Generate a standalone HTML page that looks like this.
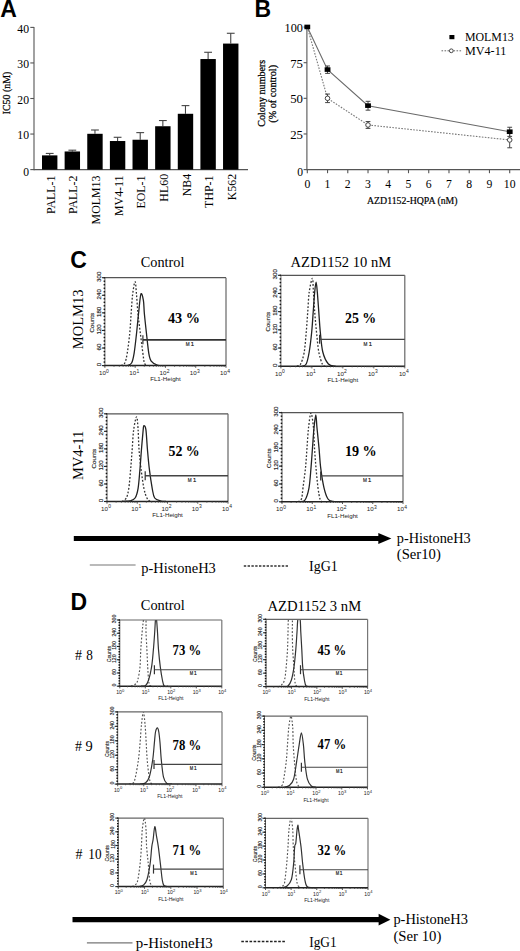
<!DOCTYPE html>
<html><head><meta charset="utf-8"><title>Figure</title>
<style>html,body{margin:0;padding:0;background:#fff;overflow:hidden}svg{display:block}</style></head>
<body><svg width="520" height="951" viewBox="0 0 520 951">
<rect width="520" height="951" fill="#fff"/>
<text x="0.20" y="16.50" font-family="'Liberation Sans', sans-serif" font-size="23" font-weight="bold" text-anchor="start" fill="#000">A</text>
<line x1="34.00" y1="26.90" x2="34.00" y2="170.20" stroke="#555" stroke-width="1.1" stroke-linecap="butt"/>
<line x1="30.30" y1="169.60" x2="34.00" y2="169.60" stroke="#555" stroke-width="1.1" stroke-linecap="butt"/>
<text x="29.00" y="175.60" font-family="'Liberation Serif', serif" font-size="11.5" text-anchor="end" fill="#000" textLength="5.80" lengthAdjust="spacingAndGlyphs">0</text>
<line x1="30.30" y1="134.05" x2="34.00" y2="134.05" stroke="#555" stroke-width="1.1" stroke-linecap="butt"/>
<text x="29.00" y="139.25" font-family="'Liberation Serif', serif" font-size="11.5" text-anchor="end" fill="#000" textLength="11.70" lengthAdjust="spacingAndGlyphs">10</text>
<line x1="30.30" y1="98.50" x2="34.00" y2="98.50" stroke="#555" stroke-width="1.1" stroke-linecap="butt"/>
<text x="29.00" y="103.70" font-family="'Liberation Serif', serif" font-size="11.5" text-anchor="end" fill="#000" textLength="11.70" lengthAdjust="spacingAndGlyphs">20</text>
<line x1="30.30" y1="62.95" x2="34.00" y2="62.95" stroke="#555" stroke-width="1.1" stroke-linecap="butt"/>
<text x="29.00" y="68.15" font-family="'Liberation Serif', serif" font-size="11.5" text-anchor="end" fill="#000" textLength="11.70" lengthAdjust="spacingAndGlyphs">30</text>
<line x1="30.30" y1="27.40" x2="34.00" y2="27.40" stroke="#555" stroke-width="1.1" stroke-linecap="butt"/>
<text x="29.00" y="32.60" font-family="'Liberation Serif', serif" font-size="11.5" text-anchor="end" fill="#000" textLength="11.70" lengthAdjust="spacingAndGlyphs">40</text>
<line x1="34.00" y1="169.60" x2="248.00" y2="169.60" stroke="#555" stroke-width="1.1" stroke-linecap="butt"/>
<text x="10.40" y="93.00" font-family="'Liberation Serif', serif" font-size="10" text-anchor="middle" fill="#000" textLength="42.60" lengthAdjust="spacingAndGlyphs" transform="rotate(-90 10.40 93.00)" stroke="#000" stroke-width="0.25">IC50 (nM)</text>
<line x1="49.70" y1="153.42" x2="49.70" y2="155.38" stroke="#444" stroke-width="1.1" stroke-linecap="butt"/>
<line x1="45.80" y1="153.42" x2="53.60" y2="153.42" stroke="#444" stroke-width="1.1" stroke-linecap="butt"/>
<rect x="42.00" y="155.38" width="15.40" height="14.22" fill="#000"/>
<text x="54.80" y="175.50" font-family="'Liberation Serif', serif" font-size="11.9" text-anchor="end" fill="#000" transform="rotate(-90 54.80 175.50)">PALL-1</text>
<line x1="72.33" y1="150.19" x2="72.33" y2="151.47" stroke="#444" stroke-width="1.1" stroke-linecap="butt"/>
<line x1="68.43" y1="150.19" x2="76.23" y2="150.19" stroke="#444" stroke-width="1.1" stroke-linecap="butt"/>
<rect x="64.63" y="151.47" width="15.40" height="18.13" fill="#000"/>
<text x="77.43" y="175.50" font-family="'Liberation Serif', serif" font-size="11.9" text-anchor="end" fill="#000" transform="rotate(-90 77.43 175.50)">PALL-2</text>
<line x1="94.96" y1="130.00" x2="94.96" y2="133.80" stroke="#444" stroke-width="1.1" stroke-linecap="butt"/>
<line x1="91.06" y1="130.00" x2="98.86" y2="130.00" stroke="#444" stroke-width="1.1" stroke-linecap="butt"/>
<rect x="87.26" y="133.80" width="15.40" height="35.80" fill="#000"/>
<text x="100.06" y="175.50" font-family="'Liberation Serif', serif" font-size="11.9" text-anchor="end" fill="#000" transform="rotate(-90 100.06 175.50)">MOLM13</text>
<line x1="117.59" y1="137.29" x2="117.59" y2="141.02" stroke="#444" stroke-width="1.1" stroke-linecap="butt"/>
<line x1="113.69" y1="137.29" x2="121.49" y2="137.29" stroke="#444" stroke-width="1.1" stroke-linecap="butt"/>
<rect x="109.89" y="141.02" width="15.40" height="28.58" fill="#000"/>
<text x="122.69" y="175.50" font-family="'Liberation Serif', serif" font-size="11.9" text-anchor="end" fill="#000" transform="rotate(-90 122.69 175.50)">MV4-11</text>
<line x1="140.22" y1="132.63" x2="140.22" y2="139.74" stroke="#444" stroke-width="1.1" stroke-linecap="butt"/>
<line x1="136.32" y1="132.63" x2="144.12" y2="132.63" stroke="#444" stroke-width="1.1" stroke-linecap="butt"/>
<rect x="132.52" y="139.74" width="15.40" height="29.86" fill="#000"/>
<text x="145.32" y="175.50" font-family="'Liberation Serif', serif" font-size="11.9" text-anchor="end" fill="#000" transform="rotate(-90 145.32 175.50)">EOL-1</text>
<line x1="162.85" y1="120.54" x2="162.85" y2="126.23" stroke="#444" stroke-width="1.1" stroke-linecap="butt"/>
<line x1="158.95" y1="120.54" x2="166.75" y2="120.54" stroke="#444" stroke-width="1.1" stroke-linecap="butt"/>
<rect x="155.15" y="126.23" width="15.40" height="43.37" fill="#000"/>
<text x="167.95" y="173.90" font-family="'Liberation Serif', serif" font-size="11.9" text-anchor="end" fill="#000" transform="rotate(-90 167.95 173.90)">HL60</text>
<line x1="185.48" y1="105.61" x2="185.48" y2="113.79" stroke="#444" stroke-width="1.1" stroke-linecap="butt"/>
<line x1="181.58" y1="105.61" x2="189.38" y2="105.61" stroke="#444" stroke-width="1.1" stroke-linecap="butt"/>
<rect x="177.78" y="113.79" width="15.40" height="55.81" fill="#000"/>
<text x="190.58" y="173.90" font-family="'Liberation Serif', serif" font-size="11.9" text-anchor="end" fill="#000" transform="rotate(-90 190.58 173.90)">NB4</text>
<line x1="208.11" y1="52.28" x2="208.11" y2="59.04" stroke="#444" stroke-width="1.1" stroke-linecap="butt"/>
<line x1="204.21" y1="52.28" x2="212.01" y2="52.28" stroke="#444" stroke-width="1.1" stroke-linecap="butt"/>
<rect x="200.41" y="59.04" width="15.40" height="110.56" fill="#000"/>
<text x="213.21" y="175.50" font-family="'Liberation Serif', serif" font-size="11.9" text-anchor="end" fill="#000" transform="rotate(-90 213.21 175.50)">THP-1</text>
<line x1="230.74" y1="33.27" x2="230.74" y2="43.58" stroke="#444" stroke-width="1.1" stroke-linecap="butt"/>
<line x1="226.84" y1="33.27" x2="234.64" y2="33.27" stroke="#444" stroke-width="1.1" stroke-linecap="butt"/>
<rect x="223.04" y="43.58" width="15.40" height="126.02" fill="#000"/>
<text x="235.84" y="173.90" font-family="'Liberation Serif', serif" font-size="11.9" text-anchor="end" fill="#000" transform="rotate(-90 235.84 173.90)">K562</text>
<text x="254.60" y="16.50" font-family="'Liberation Sans', sans-serif" font-size="23" font-weight="bold" text-anchor="start" fill="#000">B</text>
<line x1="306.90" y1="26.55" x2="306.90" y2="170.20" stroke="#555" stroke-width="1.1" stroke-linecap="butt"/>
<line x1="303.60" y1="169.60" x2="306.90" y2="169.60" stroke="#555" stroke-width="1.1" stroke-linecap="butt"/>
<text x="303.00" y="175.60" font-family="'Liberation Serif', serif" font-size="11.8" text-anchor="end" fill="#000" textLength="5.80" lengthAdjust="spacingAndGlyphs">0</text>
<line x1="303.60" y1="133.96" x2="306.90" y2="133.96" stroke="#555" stroke-width="1.1" stroke-linecap="butt"/>
<text x="303.00" y="138.96" font-family="'Liberation Serif', serif" font-size="11.8" text-anchor="end" fill="#000" textLength="12.80" lengthAdjust="spacingAndGlyphs">25</text>
<line x1="303.60" y1="98.32" x2="306.90" y2="98.32" stroke="#555" stroke-width="1.1" stroke-linecap="butt"/>
<text x="303.00" y="103.32" font-family="'Liberation Serif', serif" font-size="11.8" text-anchor="end" fill="#000" textLength="12.80" lengthAdjust="spacingAndGlyphs">50</text>
<line x1="303.60" y1="62.69" x2="306.90" y2="62.69" stroke="#555" stroke-width="1.1" stroke-linecap="butt"/>
<text x="303.00" y="67.69" font-family="'Liberation Serif', serif" font-size="11.8" text-anchor="end" fill="#000" textLength="12.80" lengthAdjust="spacingAndGlyphs">75</text>
<line x1="303.60" y1="27.05" x2="306.90" y2="27.05" stroke="#555" stroke-width="1.1" stroke-linecap="butt"/>
<text x="303.00" y="32.05" font-family="'Liberation Serif', serif" font-size="11.8" text-anchor="end" fill="#000" textLength="18.40" lengthAdjust="spacingAndGlyphs">100</text>
<line x1="306.90" y1="169.60" x2="520.00" y2="169.60" stroke="#555" stroke-width="1.1" stroke-linecap="butt"/>
<line x1="307.30" y1="169.60" x2="307.30" y2="173.20" stroke="#555" stroke-width="1.1" stroke-linecap="butt"/>
<text x="307.30" y="187.80" font-family="'Liberation Serif', serif" font-size="11.7" text-anchor="middle" fill="#000">0</text>
<line x1="327.54" y1="169.60" x2="327.54" y2="173.20" stroke="#555" stroke-width="1.1" stroke-linecap="butt"/>
<text x="327.54" y="187.80" font-family="'Liberation Serif', serif" font-size="11.7" text-anchor="middle" fill="#000">1</text>
<line x1="347.78" y1="169.60" x2="347.78" y2="173.20" stroke="#555" stroke-width="1.1" stroke-linecap="butt"/>
<text x="347.78" y="187.80" font-family="'Liberation Serif', serif" font-size="11.7" text-anchor="middle" fill="#000">2</text>
<line x1="368.02" y1="169.60" x2="368.02" y2="173.20" stroke="#555" stroke-width="1.1" stroke-linecap="butt"/>
<text x="368.02" y="187.80" font-family="'Liberation Serif', serif" font-size="11.7" text-anchor="middle" fill="#000">3</text>
<line x1="388.26" y1="169.60" x2="388.26" y2="173.20" stroke="#555" stroke-width="1.1" stroke-linecap="butt"/>
<text x="388.26" y="187.80" font-family="'Liberation Serif', serif" font-size="11.7" text-anchor="middle" fill="#000">4</text>
<line x1="408.50" y1="169.60" x2="408.50" y2="173.20" stroke="#555" stroke-width="1.1" stroke-linecap="butt"/>
<text x="408.50" y="187.80" font-family="'Liberation Serif', serif" font-size="11.7" text-anchor="middle" fill="#000">5</text>
<line x1="428.74" y1="169.60" x2="428.74" y2="173.20" stroke="#555" stroke-width="1.1" stroke-linecap="butt"/>
<text x="428.74" y="187.80" font-family="'Liberation Serif', serif" font-size="11.7" text-anchor="middle" fill="#000">6</text>
<line x1="448.98" y1="169.60" x2="448.98" y2="173.20" stroke="#555" stroke-width="1.1" stroke-linecap="butt"/>
<text x="448.98" y="187.80" font-family="'Liberation Serif', serif" font-size="11.7" text-anchor="middle" fill="#000">7</text>
<line x1="469.22" y1="169.60" x2="469.22" y2="173.20" stroke="#555" stroke-width="1.1" stroke-linecap="butt"/>
<text x="469.22" y="187.80" font-family="'Liberation Serif', serif" font-size="11.7" text-anchor="middle" fill="#000">8</text>
<line x1="489.46" y1="169.60" x2="489.46" y2="173.20" stroke="#555" stroke-width="1.1" stroke-linecap="butt"/>
<text x="489.46" y="187.80" font-family="'Liberation Serif', serif" font-size="11.7" text-anchor="middle" fill="#000">9</text>
<line x1="509.70" y1="169.60" x2="509.70" y2="173.20" stroke="#555" stroke-width="1.1" stroke-linecap="butt"/>
<text x="509.70" y="187.80" font-family="'Liberation Serif', serif" font-size="11.7" text-anchor="middle" fill="#000">10</text>
<text x="367.00" y="204.20" font-family="'Liberation Serif', serif" font-size="9.8" text-anchor="start" fill="#000" textLength="90.60" lengthAdjust="spacingAndGlyphs" stroke="#000" stroke-width="0.2">AZD1152-HQPA (nM)</text>
<text x="264.60" y="93.20" font-family="'Liberation Serif', serif" font-size="10" text-anchor="middle" fill="#000" textLength="67.00" lengthAdjust="spacingAndGlyphs" transform="rotate(-90 264.60 93.20)" stroke="#000" stroke-width="0.25">Colony numbers</text>
<text x="276.40" y="93.80" font-family="'Liberation Serif', serif" font-size="10" text-anchor="middle" fill="#000" textLength="57.80" lengthAdjust="spacingAndGlyphs" transform="rotate(-90 276.40 93.80)" stroke="#000" stroke-width="0.25">(% of control)</text>
<polyline points="307.30,27.05 327.54,69.67 368.02,105.74 509.70,131.82" fill="none" stroke="#6a6a6a" stroke-width="1.1"/>
<polyline points="307.30,27.05 327.54,98.32 368.02,124.98 509.70,139.95" fill="none" stroke="#777" stroke-width="1.1" stroke-dasharray="1.6 1.4"/>
<line x1="327.54" y1="65.97" x2="327.54" y2="73.38" stroke="#444" stroke-width="1.0" stroke-linecap="butt"/>
<line x1="325.14" y1="65.97" x2="329.94" y2="65.97" stroke="#444" stroke-width="1.0" stroke-linecap="butt"/>
<line x1="325.14" y1="73.38" x2="329.94" y2="73.38" stroke="#444" stroke-width="1.0" stroke-linecap="butt"/>
<line x1="368.02" y1="101.32" x2="368.02" y2="110.16" stroke="#444" stroke-width="1.0" stroke-linecap="butt"/>
<line x1="365.62" y1="101.32" x2="370.42" y2="101.32" stroke="#444" stroke-width="1.0" stroke-linecap="butt"/>
<line x1="365.62" y1="110.16" x2="370.42" y2="110.16" stroke="#444" stroke-width="1.0" stroke-linecap="butt"/>
<line x1="509.70" y1="127.26" x2="509.70" y2="136.39" stroke="#444" stroke-width="1.0" stroke-linecap="butt"/>
<line x1="507.30" y1="127.26" x2="512.10" y2="127.26" stroke="#444" stroke-width="1.0" stroke-linecap="butt"/>
<line x1="507.30" y1="136.39" x2="512.10" y2="136.39" stroke="#444" stroke-width="1.0" stroke-linecap="butt"/>
<line x1="327.54" y1="94.05" x2="327.54" y2="102.60" stroke="#444" stroke-width="1.0" stroke-linecap="butt"/>
<line x1="325.14" y1="94.05" x2="329.94" y2="94.05" stroke="#444" stroke-width="1.0" stroke-linecap="butt"/>
<line x1="325.14" y1="102.60" x2="329.94" y2="102.60" stroke="#444" stroke-width="1.0" stroke-linecap="butt"/>
<line x1="368.02" y1="121.56" x2="368.02" y2="128.40" stroke="#444" stroke-width="1.0" stroke-linecap="butt"/>
<line x1="365.62" y1="121.56" x2="370.42" y2="121.56" stroke="#444" stroke-width="1.0" stroke-linecap="butt"/>
<line x1="365.62" y1="128.40" x2="370.42" y2="128.40" stroke="#444" stroke-width="1.0" stroke-linecap="butt"/>
<line x1="509.70" y1="132.11" x2="509.70" y2="147.79" stroke="#444" stroke-width="1.0" stroke-linecap="butt"/>
<line x1="507.30" y1="132.11" x2="512.10" y2="132.11" stroke="#444" stroke-width="1.0" stroke-linecap="butt"/>
<line x1="507.30" y1="147.79" x2="512.10" y2="147.79" stroke="#444" stroke-width="1.0" stroke-linecap="butt"/>
<circle cx="327.54" cy="98.32" r="2.3" fill="#fff" stroke="#444" stroke-width="1"/>
<circle cx="368.02" cy="124.98" r="2.3" fill="#fff" stroke="#444" stroke-width="1"/>
<circle cx="509.70" cy="139.95" r="2.3" fill="#fff" stroke="#444" stroke-width="1"/>
<rect x="304.40" y="24.65" width="5.80" height="4.60" fill="#000"/>
<rect x="324.64" y="67.27" width="5.80" height="4.60" fill="#000"/>
<rect x="365.12" y="103.34" width="5.80" height="4.60" fill="#000"/>
<rect x="506.80" y="129.42" width="5.80" height="4.60" fill="#000"/>
<rect x="449.40" y="35.00" width="5.00" height="4.20" fill="#000"/>
<text x="465.00" y="40.90" font-family="'Liberation Serif', serif" font-size="12" text-anchor="start" fill="#000" textLength="48.80" lengthAdjust="spacingAndGlyphs">MOLM13</text>
<line x1="441.50" y1="50.80" x2="461.20" y2="50.80" stroke="#666" stroke-width="1" stroke-dasharray="1.6 1.4" stroke-linecap="butt"/>
<circle cx="451.3" cy="50.8" r="1.9" fill="#fff" stroke="#333" stroke-width="0.9"/>
<text x="465.00" y="55.30" font-family="'Liberation Serif', serif" font-size="12" text-anchor="start" fill="#000" textLength="41.30" lengthAdjust="spacingAndGlyphs">MV4-11</text>
<text x="70.20" y="268.10" font-family="'Liberation Sans', sans-serif" font-size="23" font-weight="bold" text-anchor="start" fill="#000">C</text>
<text x="140.80" y="267.10" font-family="'Liberation Serif', serif" font-size="14" text-anchor="start" fill="#000" textLength="43.60" lengthAdjust="spacingAndGlyphs">Control</text>
<text x="290.60" y="267.10" font-family="'Liberation Serif', serif" font-size="14" text-anchor="start" fill="#000" textLength="100.50" lengthAdjust="spacingAndGlyphs">AZD1152 10 nM</text>
<text x="83.00" y="319.40" font-family="'Liberation Serif', serif" font-size="14.5" text-anchor="middle" fill="#000" textLength="59.60" lengthAdjust="spacingAndGlyphs" transform="rotate(-90 83.00 319.40)">MOLM13</text>
<text x="82.90" y="455.50" font-family="'Liberation Serif', serif" font-size="14.5" text-anchor="middle" fill="#000" textLength="49.20" lengthAdjust="spacingAndGlyphs" transform="rotate(-90 82.90 455.50)">MV4-11</text>
<clipPath id="c104_277"><rect x="104.90" y="277.70" width="121.10" height="87.90"/></clipPath>
<path d="M121.00,365.60 C121.63,365.17 123.77,365.05 124.80,363.00 C125.83,360.95 126.38,358.18 127.20,353.30 C128.02,348.42 129.05,340.23 129.70,333.70 C130.35,327.17 130.62,320.62 131.10,314.10 C131.58,307.58 131.93,300.00 132.60,294.60 C133.27,289.20 134.45,281.70 135.10,281.70 C135.75,281.70 136.02,289.22 136.50,294.60 C136.98,299.98 137.35,307.48 138.00,314.00 C138.65,320.52 139.58,327.15 140.40,333.70 C141.22,340.25 142.23,348.42 142.90,353.30 C143.57,358.18 143.72,360.95 144.40,363.00 C145.08,365.05 146.57,365.17 147.00,365.60" fill="none" stroke="#333" stroke-width="1.3" stroke-dasharray="1.8 1.8" clip-path="url(#c104_277)"/>
<path d="M127.00,365.60 C127.77,365.17 130.42,365.05 131.60,363.00 C132.78,360.95 133.28,358.18 134.10,353.30 C134.92,348.42 135.77,340.25 136.50,333.70 C137.23,327.15 137.77,320.60 138.50,314.00 C139.23,307.40 140.08,296.37 140.90,294.10 C141.72,291.83 142.82,297.08 143.40,300.40 C143.98,303.72 143.88,308.45 144.40,314.00 C144.92,319.55 145.77,327.15 146.50,333.70 C147.23,340.25 148.02,348.73 148.80,353.30 C149.58,357.87 149.82,359.15 151.20,361.10 C152.58,363.05 155.13,364.25 157.10,365.00 C159.07,365.75 162.02,365.50 163.00,365.60" fill="none" stroke="#222" stroke-width="1.3" clip-path="url(#c104_277)"/>
<line x1="104.90" y1="277.70" x2="226.00" y2="277.70" stroke="#555" stroke-width="1.2" stroke-linecap="butt"/>
<line x1="226.00" y1="277.70" x2="226.00" y2="365.60" stroke="#666" stroke-width="1.2" stroke-linecap="butt"/>
<line x1="104.90" y1="277.70" x2="104.90" y2="365.60" stroke="#666" stroke-width="1.0" stroke-linecap="butt"/>
<line x1="104.90" y1="365.60" x2="226.00" y2="365.60" stroke="#222" stroke-width="1.5" stroke-linecap="butt"/>
<line x1="103.60" y1="277.70" x2="105.10" y2="277.70" stroke="#111" stroke-width="1.4" stroke-linecap="butt"/>
<line x1="103.60" y1="281.22" x2="105.10" y2="281.22" stroke="#111" stroke-width="1.4" stroke-linecap="butt"/>
<line x1="103.60" y1="284.73" x2="105.10" y2="284.73" stroke="#111" stroke-width="1.4" stroke-linecap="butt"/>
<line x1="103.60" y1="288.25" x2="105.10" y2="288.25" stroke="#111" stroke-width="1.4" stroke-linecap="butt"/>
<line x1="103.60" y1="291.76" x2="105.10" y2="291.76" stroke="#111" stroke-width="1.4" stroke-linecap="butt"/>
<line x1="103.60" y1="295.28" x2="105.10" y2="295.28" stroke="#111" stroke-width="1.4" stroke-linecap="butt"/>
<line x1="103.60" y1="298.80" x2="105.10" y2="298.80" stroke="#111" stroke-width="1.4" stroke-linecap="butt"/>
<line x1="103.60" y1="302.31" x2="105.10" y2="302.31" stroke="#111" stroke-width="1.4" stroke-linecap="butt"/>
<line x1="103.60" y1="305.83" x2="105.10" y2="305.83" stroke="#111" stroke-width="1.4" stroke-linecap="butt"/>
<line x1="103.60" y1="309.34" x2="105.10" y2="309.34" stroke="#111" stroke-width="1.4" stroke-linecap="butt"/>
<line x1="103.60" y1="312.86" x2="105.10" y2="312.86" stroke="#111" stroke-width="1.4" stroke-linecap="butt"/>
<line x1="103.60" y1="316.38" x2="105.10" y2="316.38" stroke="#111" stroke-width="1.4" stroke-linecap="butt"/>
<line x1="103.60" y1="319.89" x2="105.10" y2="319.89" stroke="#111" stroke-width="1.4" stroke-linecap="butt"/>
<line x1="103.60" y1="323.41" x2="105.10" y2="323.41" stroke="#111" stroke-width="1.4" stroke-linecap="butt"/>
<line x1="103.60" y1="326.92" x2="105.10" y2="326.92" stroke="#111" stroke-width="1.4" stroke-linecap="butt"/>
<line x1="103.60" y1="330.44" x2="105.10" y2="330.44" stroke="#111" stroke-width="1.4" stroke-linecap="butt"/>
<line x1="103.60" y1="333.96" x2="105.10" y2="333.96" stroke="#111" stroke-width="1.4" stroke-linecap="butt"/>
<line x1="103.60" y1="337.47" x2="105.10" y2="337.47" stroke="#111" stroke-width="1.4" stroke-linecap="butt"/>
<line x1="103.60" y1="340.99" x2="105.10" y2="340.99" stroke="#111" stroke-width="1.4" stroke-linecap="butt"/>
<line x1="103.60" y1="344.50" x2="105.10" y2="344.50" stroke="#111" stroke-width="1.4" stroke-linecap="butt"/>
<line x1="103.60" y1="348.02" x2="105.10" y2="348.02" stroke="#111" stroke-width="1.4" stroke-linecap="butt"/>
<line x1="103.60" y1="351.54" x2="105.10" y2="351.54" stroke="#111" stroke-width="1.4" stroke-linecap="butt"/>
<line x1="103.60" y1="355.05" x2="105.10" y2="355.05" stroke="#111" stroke-width="1.4" stroke-linecap="butt"/>
<line x1="103.60" y1="358.57" x2="105.10" y2="358.57" stroke="#111" stroke-width="1.4" stroke-linecap="butt"/>
<line x1="103.60" y1="362.08" x2="105.10" y2="362.08" stroke="#111" stroke-width="1.4" stroke-linecap="butt"/>
<line x1="103.60" y1="365.60" x2="105.10" y2="365.60" stroke="#111" stroke-width="1.4" stroke-linecap="butt"/>
<line x1="101.90" y1="277.70" x2="104.90" y2="277.70" stroke="#222" stroke-width="1.1" stroke-linecap="butt"/>
<line x1="101.90" y1="295.28" x2="104.90" y2="295.28" stroke="#222" stroke-width="1.1" stroke-linecap="butt"/>
<line x1="101.90" y1="312.86" x2="104.90" y2="312.86" stroke="#222" stroke-width="1.1" stroke-linecap="butt"/>
<line x1="101.90" y1="330.44" x2="104.90" y2="330.44" stroke="#222" stroke-width="1.1" stroke-linecap="butt"/>
<line x1="101.90" y1="348.02" x2="104.90" y2="348.02" stroke="#222" stroke-width="1.1" stroke-linecap="butt"/>
<line x1="101.90" y1="365.60" x2="104.90" y2="365.60" stroke="#222" stroke-width="1.1" stroke-linecap="butt"/>
<line x1="104.90" y1="365.60" x2="104.90" y2="367.80" stroke="#444" stroke-width="0.9" stroke-linecap="butt"/>
<line x1="114.01" y1="365.60" x2="114.01" y2="366.70" stroke="#444" stroke-width="0.9" stroke-linecap="butt"/>
<line x1="119.34" y1="365.60" x2="119.34" y2="366.70" stroke="#444" stroke-width="0.9" stroke-linecap="butt"/>
<line x1="123.13" y1="365.60" x2="123.13" y2="366.70" stroke="#444" stroke-width="0.9" stroke-linecap="butt"/>
<line x1="126.06" y1="365.60" x2="126.06" y2="366.70" stroke="#444" stroke-width="0.9" stroke-linecap="butt"/>
<line x1="128.46" y1="365.60" x2="128.46" y2="366.70" stroke="#444" stroke-width="0.9" stroke-linecap="butt"/>
<line x1="130.49" y1="365.60" x2="130.49" y2="366.70" stroke="#444" stroke-width="0.9" stroke-linecap="butt"/>
<line x1="132.24" y1="365.60" x2="132.24" y2="366.70" stroke="#444" stroke-width="0.9" stroke-linecap="butt"/>
<line x1="133.79" y1="365.60" x2="133.79" y2="366.70" stroke="#444" stroke-width="0.9" stroke-linecap="butt"/>
<line x1="135.18" y1="365.60" x2="135.18" y2="367.80" stroke="#444" stroke-width="0.9" stroke-linecap="butt"/>
<line x1="144.29" y1="365.60" x2="144.29" y2="366.70" stroke="#444" stroke-width="0.9" stroke-linecap="butt"/>
<line x1="149.62" y1="365.60" x2="149.62" y2="366.70" stroke="#444" stroke-width="0.9" stroke-linecap="butt"/>
<line x1="153.40" y1="365.60" x2="153.40" y2="366.70" stroke="#444" stroke-width="0.9" stroke-linecap="butt"/>
<line x1="156.34" y1="365.60" x2="156.34" y2="366.70" stroke="#444" stroke-width="0.9" stroke-linecap="butt"/>
<line x1="158.73" y1="365.60" x2="158.73" y2="366.70" stroke="#444" stroke-width="0.9" stroke-linecap="butt"/>
<line x1="160.76" y1="365.60" x2="160.76" y2="366.70" stroke="#444" stroke-width="0.9" stroke-linecap="butt"/>
<line x1="162.52" y1="365.60" x2="162.52" y2="366.70" stroke="#444" stroke-width="0.9" stroke-linecap="butt"/>
<line x1="164.06" y1="365.60" x2="164.06" y2="366.70" stroke="#444" stroke-width="0.9" stroke-linecap="butt"/>
<line x1="165.45" y1="365.60" x2="165.45" y2="367.80" stroke="#444" stroke-width="0.9" stroke-linecap="butt"/>
<line x1="174.56" y1="365.60" x2="174.56" y2="366.70" stroke="#444" stroke-width="0.9" stroke-linecap="butt"/>
<line x1="179.89" y1="365.60" x2="179.89" y2="366.70" stroke="#444" stroke-width="0.9" stroke-linecap="butt"/>
<line x1="183.68" y1="365.60" x2="183.68" y2="366.70" stroke="#444" stroke-width="0.9" stroke-linecap="butt"/>
<line x1="186.61" y1="365.60" x2="186.61" y2="366.70" stroke="#444" stroke-width="0.9" stroke-linecap="butt"/>
<line x1="189.01" y1="365.60" x2="189.01" y2="366.70" stroke="#444" stroke-width="0.9" stroke-linecap="butt"/>
<line x1="191.04" y1="365.60" x2="191.04" y2="366.70" stroke="#444" stroke-width="0.9" stroke-linecap="butt"/>
<line x1="192.79" y1="365.60" x2="192.79" y2="366.70" stroke="#444" stroke-width="0.9" stroke-linecap="butt"/>
<line x1="194.34" y1="365.60" x2="194.34" y2="366.70" stroke="#444" stroke-width="0.9" stroke-linecap="butt"/>
<line x1="195.72" y1="365.60" x2="195.72" y2="367.80" stroke="#444" stroke-width="0.9" stroke-linecap="butt"/>
<line x1="204.84" y1="365.60" x2="204.84" y2="366.70" stroke="#444" stroke-width="0.9" stroke-linecap="butt"/>
<line x1="210.17" y1="365.60" x2="210.17" y2="366.70" stroke="#444" stroke-width="0.9" stroke-linecap="butt"/>
<line x1="213.95" y1="365.60" x2="213.95" y2="366.70" stroke="#444" stroke-width="0.9" stroke-linecap="butt"/>
<line x1="216.89" y1="365.60" x2="216.89" y2="366.70" stroke="#444" stroke-width="0.9" stroke-linecap="butt"/>
<line x1="219.28" y1="365.60" x2="219.28" y2="366.70" stroke="#444" stroke-width="0.9" stroke-linecap="butt"/>
<line x1="221.31" y1="365.60" x2="221.31" y2="366.70" stroke="#444" stroke-width="0.9" stroke-linecap="butt"/>
<line x1="223.07" y1="365.60" x2="223.07" y2="366.70" stroke="#444" stroke-width="0.9" stroke-linecap="butt"/>
<line x1="224.61" y1="365.60" x2="224.61" y2="366.70" stroke="#444" stroke-width="0.9" stroke-linecap="butt"/>
<line x1="226.00" y1="365.60" x2="226.00" y2="367.80" stroke="#444" stroke-width="0.9" stroke-linecap="butt"/>
<text x="100.60" y="364.60" font-family="'Liberation Sans', sans-serif" font-size="6.2" text-anchor="middle" fill="#222" transform="rotate(-90 100.60 364.60)" stroke="#222" stroke-width="0.15">0</text>
<text x="100.60" y="347.02" font-family="'Liberation Sans', sans-serif" font-size="6.2" text-anchor="middle" fill="#222" transform="rotate(-90 100.60 347.02)" stroke="#222" stroke-width="0.15">60</text>
<text x="100.60" y="329.44" font-family="'Liberation Sans', sans-serif" font-size="6.2" text-anchor="middle" fill="#222" transform="rotate(-90 100.60 329.44)" stroke="#222" stroke-width="0.15">120</text>
<text x="100.60" y="311.86" font-family="'Liberation Sans', sans-serif" font-size="6.2" text-anchor="middle" fill="#222" transform="rotate(-90 100.60 311.86)" stroke="#222" stroke-width="0.15">180</text>
<text x="100.60" y="294.28" font-family="'Liberation Sans', sans-serif" font-size="6.2" text-anchor="middle" fill="#222" transform="rotate(-90 100.60 294.28)" stroke="#222" stroke-width="0.15">240</text>
<text x="100.60" y="276.70" font-family="'Liberation Sans', sans-serif" font-size="6.2" text-anchor="middle" fill="#222" transform="rotate(-90 100.60 276.70)" stroke="#222" stroke-width="0.15">300</text>
<text x="93.60" y="322.65" font-family="'Liberation Sans', sans-serif" font-size="6.2" text-anchor="middle" fill="#222" transform="rotate(-90 93.60 322.65)" stroke="#222" stroke-width="0.15">Counts</text>
<text x="105.90" y="374.90" font-family="'Liberation Sans', sans-serif" font-size="6.2" text-anchor="end" fill="#222">10</text>
<text x="106.10" y="372.50" font-family="'Liberation Sans', sans-serif" font-size="4.960000000000001" text-anchor="start" fill="#222">0</text>
<text x="136.18" y="374.90" font-family="'Liberation Sans', sans-serif" font-size="6.2" text-anchor="end" fill="#222">10</text>
<text x="136.38" y="372.50" font-family="'Liberation Sans', sans-serif" font-size="4.960000000000001" text-anchor="start" fill="#222">1</text>
<text x="166.45" y="374.90" font-family="'Liberation Sans', sans-serif" font-size="6.2" text-anchor="end" fill="#222">10</text>
<text x="166.65" y="372.50" font-family="'Liberation Sans', sans-serif" font-size="4.960000000000001" text-anchor="start" fill="#222">2</text>
<text x="196.72" y="374.90" font-family="'Liberation Sans', sans-serif" font-size="6.2" text-anchor="end" fill="#222">10</text>
<text x="196.92" y="372.50" font-family="'Liberation Sans', sans-serif" font-size="4.960000000000001" text-anchor="start" fill="#222">3</text>
<text x="227.00" y="374.90" font-family="'Liberation Sans', sans-serif" font-size="6.2" text-anchor="end" fill="#222">10</text>
<text x="227.20" y="372.50" font-family="'Liberation Sans', sans-serif" font-size="4.960000000000001" text-anchor="start" fill="#222">4</text>
<text x="165.45" y="381.40" font-family="'Liberation Sans', sans-serif" font-size="6.2" text-anchor="middle" fill="#222">FL1-Height</text>
<line x1="142.90" y1="339.80" x2="226.00" y2="339.80" stroke="#333" stroke-width="1.7" stroke-linecap="butt"/>
<line x1="142.90" y1="335.30" x2="142.90" y2="344.30" stroke="#333" stroke-width="1.2" stroke-linecap="butt"/>
<text x="185.70" y="346.20" font-family="'Liberation Sans', sans-serif" font-size="5.89" text-anchor="start" fill="#111" textLength="3.90" lengthAdjust="spacingAndGlyphs" stroke="#111" stroke-width="0.15">M</text>
<text x="194.09" y="346.20" font-family="'Liberation Sans', sans-serif" font-size="5.89" text-anchor="end" fill="#111" stroke="#111" stroke-width="0.15">1</text>
<text x="167.90" y="323.40" font-family="'Liberation Serif', serif" font-size="14" font-weight="bold" text-anchor="start" fill="#000" textLength="32.00" lengthAdjust="spacingAndGlyphs">43 %</text>
<clipPath id="c280_275"><rect x="280.90" y="275.30" width="123.90" height="90.90"/></clipPath>
<path d="M297.00,366.20 C297.60,365.83 299.42,366.23 300.60,364.00 C301.78,361.77 303.17,358.03 304.10,352.80 C305.03,347.57 305.60,339.33 306.20,332.60 C306.80,325.87 307.20,319.13 307.70,312.40 C308.20,305.67 308.42,297.88 309.20,292.20 C309.98,286.52 311.70,278.33 312.40,278.30 C313.10,278.27 313.02,286.38 313.40,292.00 C313.78,297.62 314.18,305.33 314.70,312.00 C315.22,318.67 315.82,325.33 316.50,332.00 C317.18,338.67 317.83,346.67 318.80,352.00 C319.77,357.33 321.27,361.63 322.30,364.00 C323.33,366.37 324.55,365.83 325.00,366.20" fill="none" stroke="#333" stroke-width="1.3" stroke-dasharray="1.8 1.8" clip-path="url(#c280_275)"/>
<path d="M302.00,366.20 C302.70,365.83 305.00,366.37 306.20,364.00 C307.40,361.63 308.28,357.33 309.20,352.00 C310.12,346.67 311.03,338.67 311.70,332.00 C312.37,325.33 312.70,318.67 313.20,312.00 C313.70,305.33 314.22,296.98 314.70,292.00 C315.18,287.02 315.67,282.10 316.10,282.10 C316.53,282.10 316.85,287.02 317.30,292.00 C317.75,296.98 318.30,305.33 318.80,312.00 C319.30,318.67 319.63,325.33 320.30,332.00 C320.97,338.67 321.45,346.67 322.80,352.00 C324.15,357.33 326.28,361.63 328.40,364.00 C330.52,366.37 334.32,365.83 335.50,366.20" fill="none" stroke="#222" stroke-width="1.3" clip-path="url(#c280_275)"/>
<line x1="280.90" y1="275.30" x2="404.80" y2="275.30" stroke="#555" stroke-width="1.2" stroke-linecap="butt"/>
<line x1="404.80" y1="275.30" x2="404.80" y2="366.20" stroke="#666" stroke-width="1.2" stroke-linecap="butt"/>
<line x1="280.90" y1="275.30" x2="280.90" y2="366.20" stroke="#666" stroke-width="1.0" stroke-linecap="butt"/>
<line x1="280.90" y1="366.20" x2="404.80" y2="366.20" stroke="#222" stroke-width="1.5" stroke-linecap="butt"/>
<line x1="279.60" y1="275.30" x2="281.10" y2="275.30" stroke="#111" stroke-width="1.4" stroke-linecap="butt"/>
<line x1="279.60" y1="278.94" x2="281.10" y2="278.94" stroke="#111" stroke-width="1.4" stroke-linecap="butt"/>
<line x1="279.60" y1="282.57" x2="281.10" y2="282.57" stroke="#111" stroke-width="1.4" stroke-linecap="butt"/>
<line x1="279.60" y1="286.21" x2="281.10" y2="286.21" stroke="#111" stroke-width="1.4" stroke-linecap="butt"/>
<line x1="279.60" y1="289.84" x2="281.10" y2="289.84" stroke="#111" stroke-width="1.4" stroke-linecap="butt"/>
<line x1="279.60" y1="293.48" x2="281.10" y2="293.48" stroke="#111" stroke-width="1.4" stroke-linecap="butt"/>
<line x1="279.60" y1="297.12" x2="281.10" y2="297.12" stroke="#111" stroke-width="1.4" stroke-linecap="butt"/>
<line x1="279.60" y1="300.75" x2="281.10" y2="300.75" stroke="#111" stroke-width="1.4" stroke-linecap="butt"/>
<line x1="279.60" y1="304.39" x2="281.10" y2="304.39" stroke="#111" stroke-width="1.4" stroke-linecap="butt"/>
<line x1="279.60" y1="308.02" x2="281.10" y2="308.02" stroke="#111" stroke-width="1.4" stroke-linecap="butt"/>
<line x1="279.60" y1="311.66" x2="281.10" y2="311.66" stroke="#111" stroke-width="1.4" stroke-linecap="butt"/>
<line x1="279.60" y1="315.30" x2="281.10" y2="315.30" stroke="#111" stroke-width="1.4" stroke-linecap="butt"/>
<line x1="279.60" y1="318.93" x2="281.10" y2="318.93" stroke="#111" stroke-width="1.4" stroke-linecap="butt"/>
<line x1="279.60" y1="322.57" x2="281.10" y2="322.57" stroke="#111" stroke-width="1.4" stroke-linecap="butt"/>
<line x1="279.60" y1="326.20" x2="281.10" y2="326.20" stroke="#111" stroke-width="1.4" stroke-linecap="butt"/>
<line x1="279.60" y1="329.84" x2="281.10" y2="329.84" stroke="#111" stroke-width="1.4" stroke-linecap="butt"/>
<line x1="279.60" y1="333.48" x2="281.10" y2="333.48" stroke="#111" stroke-width="1.4" stroke-linecap="butt"/>
<line x1="279.60" y1="337.11" x2="281.10" y2="337.11" stroke="#111" stroke-width="1.4" stroke-linecap="butt"/>
<line x1="279.60" y1="340.75" x2="281.10" y2="340.75" stroke="#111" stroke-width="1.4" stroke-linecap="butt"/>
<line x1="279.60" y1="344.38" x2="281.10" y2="344.38" stroke="#111" stroke-width="1.4" stroke-linecap="butt"/>
<line x1="279.60" y1="348.02" x2="281.10" y2="348.02" stroke="#111" stroke-width="1.4" stroke-linecap="butt"/>
<line x1="279.60" y1="351.66" x2="281.10" y2="351.66" stroke="#111" stroke-width="1.4" stroke-linecap="butt"/>
<line x1="279.60" y1="355.29" x2="281.10" y2="355.29" stroke="#111" stroke-width="1.4" stroke-linecap="butt"/>
<line x1="279.60" y1="358.93" x2="281.10" y2="358.93" stroke="#111" stroke-width="1.4" stroke-linecap="butt"/>
<line x1="279.60" y1="362.56" x2="281.10" y2="362.56" stroke="#111" stroke-width="1.4" stroke-linecap="butt"/>
<line x1="279.60" y1="366.20" x2="281.10" y2="366.20" stroke="#111" stroke-width="1.4" stroke-linecap="butt"/>
<line x1="277.90" y1="275.30" x2="280.90" y2="275.30" stroke="#222" stroke-width="1.1" stroke-linecap="butt"/>
<line x1="277.90" y1="293.48" x2="280.90" y2="293.48" stroke="#222" stroke-width="1.1" stroke-linecap="butt"/>
<line x1="277.90" y1="311.66" x2="280.90" y2="311.66" stroke="#222" stroke-width="1.1" stroke-linecap="butt"/>
<line x1="277.90" y1="329.84" x2="280.90" y2="329.84" stroke="#222" stroke-width="1.1" stroke-linecap="butt"/>
<line x1="277.90" y1="348.02" x2="280.90" y2="348.02" stroke="#222" stroke-width="1.1" stroke-linecap="butt"/>
<line x1="277.90" y1="366.20" x2="280.90" y2="366.20" stroke="#222" stroke-width="1.1" stroke-linecap="butt"/>
<line x1="280.90" y1="366.20" x2="280.90" y2="368.40" stroke="#444" stroke-width="0.9" stroke-linecap="butt"/>
<line x1="290.22" y1="366.20" x2="290.22" y2="367.30" stroke="#444" stroke-width="0.9" stroke-linecap="butt"/>
<line x1="295.68" y1="366.20" x2="295.68" y2="367.30" stroke="#444" stroke-width="0.9" stroke-linecap="butt"/>
<line x1="299.55" y1="366.20" x2="299.55" y2="367.30" stroke="#444" stroke-width="0.9" stroke-linecap="butt"/>
<line x1="302.55" y1="366.20" x2="302.55" y2="367.30" stroke="#444" stroke-width="0.9" stroke-linecap="butt"/>
<line x1="305.00" y1="366.20" x2="305.00" y2="367.30" stroke="#444" stroke-width="0.9" stroke-linecap="butt"/>
<line x1="307.08" y1="366.20" x2="307.08" y2="367.30" stroke="#444" stroke-width="0.9" stroke-linecap="butt"/>
<line x1="308.87" y1="366.20" x2="308.87" y2="367.30" stroke="#444" stroke-width="0.9" stroke-linecap="butt"/>
<line x1="310.46" y1="366.20" x2="310.46" y2="367.30" stroke="#444" stroke-width="0.9" stroke-linecap="butt"/>
<line x1="311.88" y1="366.20" x2="311.88" y2="368.40" stroke="#444" stroke-width="0.9" stroke-linecap="butt"/>
<line x1="321.20" y1="366.20" x2="321.20" y2="367.30" stroke="#444" stroke-width="0.9" stroke-linecap="butt"/>
<line x1="326.65" y1="366.20" x2="326.65" y2="367.30" stroke="#444" stroke-width="0.9" stroke-linecap="butt"/>
<line x1="330.52" y1="366.20" x2="330.52" y2="367.30" stroke="#444" stroke-width="0.9" stroke-linecap="butt"/>
<line x1="333.53" y1="366.20" x2="333.53" y2="367.30" stroke="#444" stroke-width="0.9" stroke-linecap="butt"/>
<line x1="335.98" y1="366.20" x2="335.98" y2="367.30" stroke="#444" stroke-width="0.9" stroke-linecap="butt"/>
<line x1="338.05" y1="366.20" x2="338.05" y2="367.30" stroke="#444" stroke-width="0.9" stroke-linecap="butt"/>
<line x1="339.85" y1="366.20" x2="339.85" y2="367.30" stroke="#444" stroke-width="0.9" stroke-linecap="butt"/>
<line x1="341.43" y1="366.20" x2="341.43" y2="367.30" stroke="#444" stroke-width="0.9" stroke-linecap="butt"/>
<line x1="342.85" y1="366.20" x2="342.85" y2="368.40" stroke="#444" stroke-width="0.9" stroke-linecap="butt"/>
<line x1="352.17" y1="366.20" x2="352.17" y2="367.30" stroke="#444" stroke-width="0.9" stroke-linecap="butt"/>
<line x1="357.63" y1="366.20" x2="357.63" y2="367.30" stroke="#444" stroke-width="0.9" stroke-linecap="butt"/>
<line x1="361.50" y1="366.20" x2="361.50" y2="367.30" stroke="#444" stroke-width="0.9" stroke-linecap="butt"/>
<line x1="364.50" y1="366.20" x2="364.50" y2="367.30" stroke="#444" stroke-width="0.9" stroke-linecap="butt"/>
<line x1="366.95" y1="366.20" x2="366.95" y2="367.30" stroke="#444" stroke-width="0.9" stroke-linecap="butt"/>
<line x1="369.03" y1="366.20" x2="369.03" y2="367.30" stroke="#444" stroke-width="0.9" stroke-linecap="butt"/>
<line x1="370.82" y1="366.20" x2="370.82" y2="367.30" stroke="#444" stroke-width="0.9" stroke-linecap="butt"/>
<line x1="372.41" y1="366.20" x2="372.41" y2="367.30" stroke="#444" stroke-width="0.9" stroke-linecap="butt"/>
<line x1="373.82" y1="366.20" x2="373.82" y2="368.40" stroke="#444" stroke-width="0.9" stroke-linecap="butt"/>
<line x1="383.15" y1="366.20" x2="383.15" y2="367.30" stroke="#444" stroke-width="0.9" stroke-linecap="butt"/>
<line x1="388.60" y1="366.20" x2="388.60" y2="367.30" stroke="#444" stroke-width="0.9" stroke-linecap="butt"/>
<line x1="392.47" y1="366.20" x2="392.47" y2="367.30" stroke="#444" stroke-width="0.9" stroke-linecap="butt"/>
<line x1="395.48" y1="366.20" x2="395.48" y2="367.30" stroke="#444" stroke-width="0.9" stroke-linecap="butt"/>
<line x1="397.93" y1="366.20" x2="397.93" y2="367.30" stroke="#444" stroke-width="0.9" stroke-linecap="butt"/>
<line x1="400.00" y1="366.20" x2="400.00" y2="367.30" stroke="#444" stroke-width="0.9" stroke-linecap="butt"/>
<line x1="401.80" y1="366.20" x2="401.80" y2="367.30" stroke="#444" stroke-width="0.9" stroke-linecap="butt"/>
<line x1="403.38" y1="366.20" x2="403.38" y2="367.30" stroke="#444" stroke-width="0.9" stroke-linecap="butt"/>
<line x1="404.80" y1="366.20" x2="404.80" y2="368.40" stroke="#444" stroke-width="0.9" stroke-linecap="butt"/>
<text x="276.60" y="365.20" font-family="'Liberation Sans', sans-serif" font-size="6.2" text-anchor="middle" fill="#222" transform="rotate(-90 276.60 365.20)" stroke="#222" stroke-width="0.15">0</text>
<text x="276.60" y="347.02" font-family="'Liberation Sans', sans-serif" font-size="6.2" text-anchor="middle" fill="#222" transform="rotate(-90 276.60 347.02)" stroke="#222" stroke-width="0.15">60</text>
<text x="276.60" y="328.84" font-family="'Liberation Sans', sans-serif" font-size="6.2" text-anchor="middle" fill="#222" transform="rotate(-90 276.60 328.84)" stroke="#222" stroke-width="0.15">120</text>
<text x="276.60" y="310.66" font-family="'Liberation Sans', sans-serif" font-size="6.2" text-anchor="middle" fill="#222" transform="rotate(-90 276.60 310.66)" stroke="#222" stroke-width="0.15">180</text>
<text x="276.60" y="292.48" font-family="'Liberation Sans', sans-serif" font-size="6.2" text-anchor="middle" fill="#222" transform="rotate(-90 276.60 292.48)" stroke="#222" stroke-width="0.15">240</text>
<text x="276.60" y="274.30" font-family="'Liberation Sans', sans-serif" font-size="6.2" text-anchor="middle" fill="#222" transform="rotate(-90 276.60 274.30)" stroke="#222" stroke-width="0.15">300</text>
<text x="269.60" y="321.75" font-family="'Liberation Sans', sans-serif" font-size="6.2" text-anchor="middle" fill="#222" transform="rotate(-90 269.60 321.75)" stroke="#222" stroke-width="0.15">Counts</text>
<text x="281.90" y="375.50" font-family="'Liberation Sans', sans-serif" font-size="6.2" text-anchor="end" fill="#222">10</text>
<text x="282.10" y="373.10" font-family="'Liberation Sans', sans-serif" font-size="4.960000000000001" text-anchor="start" fill="#222">0</text>
<text x="312.88" y="375.50" font-family="'Liberation Sans', sans-serif" font-size="6.2" text-anchor="end" fill="#222">10</text>
<text x="313.07" y="373.10" font-family="'Liberation Sans', sans-serif" font-size="4.960000000000001" text-anchor="start" fill="#222">1</text>
<text x="343.85" y="375.50" font-family="'Liberation Sans', sans-serif" font-size="6.2" text-anchor="end" fill="#222">10</text>
<text x="344.05" y="373.10" font-family="'Liberation Sans', sans-serif" font-size="4.960000000000001" text-anchor="start" fill="#222">2</text>
<text x="374.82" y="375.50" font-family="'Liberation Sans', sans-serif" font-size="6.2" text-anchor="end" fill="#222">10</text>
<text x="375.02" y="373.10" font-family="'Liberation Sans', sans-serif" font-size="4.960000000000001" text-anchor="start" fill="#222">3</text>
<text x="405.80" y="375.50" font-family="'Liberation Sans', sans-serif" font-size="6.2" text-anchor="end" fill="#222">10</text>
<text x="406.00" y="373.10" font-family="'Liberation Sans', sans-serif" font-size="4.960000000000001" text-anchor="start" fill="#222">4</text>
<text x="342.85" y="382.00" font-family="'Liberation Sans', sans-serif" font-size="6.2" text-anchor="middle" fill="#222">FL1-Height</text>
<line x1="319.60" y1="339.30" x2="404.80" y2="339.30" stroke="#444" stroke-width="1.15" stroke-linecap="butt"/>
<line x1="319.60" y1="334.80" x2="319.60" y2="343.80" stroke="#333" stroke-width="1.2" stroke-linecap="butt"/>
<text x="363.48" y="345.70" font-family="'Liberation Sans', sans-serif" font-size="5.89" text-anchor="start" fill="#111" textLength="3.90" lengthAdjust="spacingAndGlyphs" stroke="#111" stroke-width="0.15">M</text>
<text x="372.08" y="345.70" font-family="'Liberation Sans', sans-serif" font-size="5.89" text-anchor="end" fill="#111" stroke="#111" stroke-width="0.15">1</text>
<text x="345.00" y="323.10" font-family="'Liberation Serif', serif" font-size="14" font-weight="bold" text-anchor="start" fill="#000" textLength="31.20" lengthAdjust="spacingAndGlyphs">25 %</text>
<clipPath id="c107_413"><rect x="107.00" y="413.80" width="121.00" height="87.70"/></clipPath>
<path d="M122.00,501.50 C122.72,500.92 125.17,500.20 126.30,498.00 C127.43,495.80 128.07,493.18 128.80,488.30 C129.53,483.42 130.13,475.23 130.70,468.70 C131.27,462.17 131.70,455.62 132.20,449.10 C132.70,442.58 132.97,434.98 133.70,429.60 C134.43,424.22 135.87,416.80 136.60,416.80 C137.33,416.80 137.70,424.23 138.10,429.60 C138.50,434.97 138.52,442.48 139.00,449.00 C139.48,455.52 140.18,462.15 141.00,468.70 C141.82,475.25 142.92,483.42 143.90,488.30 C144.88,493.18 145.88,495.80 146.90,498.00 C147.92,500.20 149.48,500.92 150.00,501.50" fill="none" stroke="#333" stroke-width="1.3" stroke-dasharray="1.8 1.8" clip-path="url(#c107_413)"/>
<path d="M124.00,501.30 C125.00,501.22 128.15,501.35 130.00,500.80 C131.85,500.25 133.75,500.08 135.10,498.00 C136.45,495.92 137.28,493.18 138.10,488.30 C138.92,483.42 139.43,475.25 140.00,468.70 C140.57,462.15 140.97,455.52 141.50,449.00 C142.03,442.48 142.80,433.48 143.20,429.60 C143.60,425.72 143.45,425.70 143.90,425.70 C144.35,425.70 145.32,425.72 145.90,429.60 C146.48,433.48 146.83,442.48 147.40,449.00 C147.97,455.52 148.50,462.15 149.30,468.70 C150.10,475.25 151.30,483.42 152.20,488.30 C153.10,493.18 153.23,495.88 154.70,498.00 C156.17,500.12 159.12,500.42 161.00,501.00 C162.88,501.58 165.17,501.42 166.00,501.50" fill="none" stroke="#222" stroke-width="1.3" clip-path="url(#c107_413)"/>
<line x1="107.00" y1="413.80" x2="228.00" y2="413.80" stroke="#555" stroke-width="1.2" stroke-linecap="butt"/>
<line x1="228.00" y1="413.80" x2="228.00" y2="501.50" stroke="#666" stroke-width="1.2" stroke-linecap="butt"/>
<line x1="107.00" y1="413.80" x2="107.00" y2="501.50" stroke="#666" stroke-width="1.0" stroke-linecap="butt"/>
<line x1="107.00" y1="501.50" x2="228.00" y2="501.50" stroke="#222" stroke-width="1.5" stroke-linecap="butt"/>
<line x1="105.70" y1="413.80" x2="107.20" y2="413.80" stroke="#111" stroke-width="1.4" stroke-linecap="butt"/>
<line x1="105.70" y1="417.31" x2="107.20" y2="417.31" stroke="#111" stroke-width="1.4" stroke-linecap="butt"/>
<line x1="105.70" y1="420.82" x2="107.20" y2="420.82" stroke="#111" stroke-width="1.4" stroke-linecap="butt"/>
<line x1="105.70" y1="424.32" x2="107.20" y2="424.32" stroke="#111" stroke-width="1.4" stroke-linecap="butt"/>
<line x1="105.70" y1="427.83" x2="107.20" y2="427.83" stroke="#111" stroke-width="1.4" stroke-linecap="butt"/>
<line x1="105.70" y1="431.34" x2="107.20" y2="431.34" stroke="#111" stroke-width="1.4" stroke-linecap="butt"/>
<line x1="105.70" y1="434.85" x2="107.20" y2="434.85" stroke="#111" stroke-width="1.4" stroke-linecap="butt"/>
<line x1="105.70" y1="438.36" x2="107.20" y2="438.36" stroke="#111" stroke-width="1.4" stroke-linecap="butt"/>
<line x1="105.70" y1="441.86" x2="107.20" y2="441.86" stroke="#111" stroke-width="1.4" stroke-linecap="butt"/>
<line x1="105.70" y1="445.37" x2="107.20" y2="445.37" stroke="#111" stroke-width="1.4" stroke-linecap="butt"/>
<line x1="105.70" y1="448.88" x2="107.20" y2="448.88" stroke="#111" stroke-width="1.4" stroke-linecap="butt"/>
<line x1="105.70" y1="452.39" x2="107.20" y2="452.39" stroke="#111" stroke-width="1.4" stroke-linecap="butt"/>
<line x1="105.70" y1="455.90" x2="107.20" y2="455.90" stroke="#111" stroke-width="1.4" stroke-linecap="butt"/>
<line x1="105.70" y1="459.40" x2="107.20" y2="459.40" stroke="#111" stroke-width="1.4" stroke-linecap="butt"/>
<line x1="105.70" y1="462.91" x2="107.20" y2="462.91" stroke="#111" stroke-width="1.4" stroke-linecap="butt"/>
<line x1="105.70" y1="466.42" x2="107.20" y2="466.42" stroke="#111" stroke-width="1.4" stroke-linecap="butt"/>
<line x1="105.70" y1="469.93" x2="107.20" y2="469.93" stroke="#111" stroke-width="1.4" stroke-linecap="butt"/>
<line x1="105.70" y1="473.44" x2="107.20" y2="473.44" stroke="#111" stroke-width="1.4" stroke-linecap="butt"/>
<line x1="105.70" y1="476.94" x2="107.20" y2="476.94" stroke="#111" stroke-width="1.4" stroke-linecap="butt"/>
<line x1="105.70" y1="480.45" x2="107.20" y2="480.45" stroke="#111" stroke-width="1.4" stroke-linecap="butt"/>
<line x1="105.70" y1="483.96" x2="107.20" y2="483.96" stroke="#111" stroke-width="1.4" stroke-linecap="butt"/>
<line x1="105.70" y1="487.47" x2="107.20" y2="487.47" stroke="#111" stroke-width="1.4" stroke-linecap="butt"/>
<line x1="105.70" y1="490.98" x2="107.20" y2="490.98" stroke="#111" stroke-width="1.4" stroke-linecap="butt"/>
<line x1="105.70" y1="494.48" x2="107.20" y2="494.48" stroke="#111" stroke-width="1.4" stroke-linecap="butt"/>
<line x1="105.70" y1="497.99" x2="107.20" y2="497.99" stroke="#111" stroke-width="1.4" stroke-linecap="butt"/>
<line x1="105.70" y1="501.50" x2="107.20" y2="501.50" stroke="#111" stroke-width="1.4" stroke-linecap="butt"/>
<line x1="104.00" y1="413.80" x2="107.00" y2="413.80" stroke="#222" stroke-width="1.1" stroke-linecap="butt"/>
<line x1="104.00" y1="431.34" x2="107.00" y2="431.34" stroke="#222" stroke-width="1.1" stroke-linecap="butt"/>
<line x1="104.00" y1="448.88" x2="107.00" y2="448.88" stroke="#222" stroke-width="1.1" stroke-linecap="butt"/>
<line x1="104.00" y1="466.42" x2="107.00" y2="466.42" stroke="#222" stroke-width="1.1" stroke-linecap="butt"/>
<line x1="104.00" y1="483.96" x2="107.00" y2="483.96" stroke="#222" stroke-width="1.1" stroke-linecap="butt"/>
<line x1="104.00" y1="501.50" x2="107.00" y2="501.50" stroke="#222" stroke-width="1.1" stroke-linecap="butt"/>
<line x1="107.00" y1="501.50" x2="107.00" y2="503.70" stroke="#444" stroke-width="0.9" stroke-linecap="butt"/>
<line x1="116.11" y1="501.50" x2="116.11" y2="502.60" stroke="#444" stroke-width="0.9" stroke-linecap="butt"/>
<line x1="121.43" y1="501.50" x2="121.43" y2="502.60" stroke="#444" stroke-width="0.9" stroke-linecap="butt"/>
<line x1="125.21" y1="501.50" x2="125.21" y2="502.60" stroke="#444" stroke-width="0.9" stroke-linecap="butt"/>
<line x1="128.14" y1="501.50" x2="128.14" y2="502.60" stroke="#444" stroke-width="0.9" stroke-linecap="butt"/>
<line x1="130.54" y1="501.50" x2="130.54" y2="502.60" stroke="#444" stroke-width="0.9" stroke-linecap="butt"/>
<line x1="132.56" y1="501.50" x2="132.56" y2="502.60" stroke="#444" stroke-width="0.9" stroke-linecap="butt"/>
<line x1="134.32" y1="501.50" x2="134.32" y2="502.60" stroke="#444" stroke-width="0.9" stroke-linecap="butt"/>
<line x1="135.87" y1="501.50" x2="135.87" y2="502.60" stroke="#444" stroke-width="0.9" stroke-linecap="butt"/>
<line x1="137.25" y1="501.50" x2="137.25" y2="503.70" stroke="#444" stroke-width="0.9" stroke-linecap="butt"/>
<line x1="146.36" y1="501.50" x2="146.36" y2="502.60" stroke="#444" stroke-width="0.9" stroke-linecap="butt"/>
<line x1="151.68" y1="501.50" x2="151.68" y2="502.60" stroke="#444" stroke-width="0.9" stroke-linecap="butt"/>
<line x1="155.46" y1="501.50" x2="155.46" y2="502.60" stroke="#444" stroke-width="0.9" stroke-linecap="butt"/>
<line x1="158.39" y1="501.50" x2="158.39" y2="502.60" stroke="#444" stroke-width="0.9" stroke-linecap="butt"/>
<line x1="160.79" y1="501.50" x2="160.79" y2="502.60" stroke="#444" stroke-width="0.9" stroke-linecap="butt"/>
<line x1="162.81" y1="501.50" x2="162.81" y2="502.60" stroke="#444" stroke-width="0.9" stroke-linecap="butt"/>
<line x1="164.57" y1="501.50" x2="164.57" y2="502.60" stroke="#444" stroke-width="0.9" stroke-linecap="butt"/>
<line x1="166.12" y1="501.50" x2="166.12" y2="502.60" stroke="#444" stroke-width="0.9" stroke-linecap="butt"/>
<line x1="167.50" y1="501.50" x2="167.50" y2="503.70" stroke="#444" stroke-width="0.9" stroke-linecap="butt"/>
<line x1="176.61" y1="501.50" x2="176.61" y2="502.60" stroke="#444" stroke-width="0.9" stroke-linecap="butt"/>
<line x1="181.93" y1="501.50" x2="181.93" y2="502.60" stroke="#444" stroke-width="0.9" stroke-linecap="butt"/>
<line x1="185.71" y1="501.50" x2="185.71" y2="502.60" stroke="#444" stroke-width="0.9" stroke-linecap="butt"/>
<line x1="188.64" y1="501.50" x2="188.64" y2="502.60" stroke="#444" stroke-width="0.9" stroke-linecap="butt"/>
<line x1="191.04" y1="501.50" x2="191.04" y2="502.60" stroke="#444" stroke-width="0.9" stroke-linecap="butt"/>
<line x1="193.06" y1="501.50" x2="193.06" y2="502.60" stroke="#444" stroke-width="0.9" stroke-linecap="butt"/>
<line x1="194.82" y1="501.50" x2="194.82" y2="502.60" stroke="#444" stroke-width="0.9" stroke-linecap="butt"/>
<line x1="196.37" y1="501.50" x2="196.37" y2="502.60" stroke="#444" stroke-width="0.9" stroke-linecap="butt"/>
<line x1="197.75" y1="501.50" x2="197.75" y2="503.70" stroke="#444" stroke-width="0.9" stroke-linecap="butt"/>
<line x1="206.86" y1="501.50" x2="206.86" y2="502.60" stroke="#444" stroke-width="0.9" stroke-linecap="butt"/>
<line x1="212.18" y1="501.50" x2="212.18" y2="502.60" stroke="#444" stroke-width="0.9" stroke-linecap="butt"/>
<line x1="215.96" y1="501.50" x2="215.96" y2="502.60" stroke="#444" stroke-width="0.9" stroke-linecap="butt"/>
<line x1="218.89" y1="501.50" x2="218.89" y2="502.60" stroke="#444" stroke-width="0.9" stroke-linecap="butt"/>
<line x1="221.29" y1="501.50" x2="221.29" y2="502.60" stroke="#444" stroke-width="0.9" stroke-linecap="butt"/>
<line x1="223.31" y1="501.50" x2="223.31" y2="502.60" stroke="#444" stroke-width="0.9" stroke-linecap="butt"/>
<line x1="225.07" y1="501.50" x2="225.07" y2="502.60" stroke="#444" stroke-width="0.9" stroke-linecap="butt"/>
<line x1="226.62" y1="501.50" x2="226.62" y2="502.60" stroke="#444" stroke-width="0.9" stroke-linecap="butt"/>
<line x1="228.00" y1="501.50" x2="228.00" y2="503.70" stroke="#444" stroke-width="0.9" stroke-linecap="butt"/>
<text x="102.70" y="500.50" font-family="'Liberation Sans', sans-serif" font-size="6.2" text-anchor="middle" fill="#222" transform="rotate(-90 102.70 500.50)" stroke="#222" stroke-width="0.15">0</text>
<text x="102.70" y="482.96" font-family="'Liberation Sans', sans-serif" font-size="6.2" text-anchor="middle" fill="#222" transform="rotate(-90 102.70 482.96)" stroke="#222" stroke-width="0.15">60</text>
<text x="102.70" y="465.42" font-family="'Liberation Sans', sans-serif" font-size="6.2" text-anchor="middle" fill="#222" transform="rotate(-90 102.70 465.42)" stroke="#222" stroke-width="0.15">120</text>
<text x="102.70" y="447.88" font-family="'Liberation Sans', sans-serif" font-size="6.2" text-anchor="middle" fill="#222" transform="rotate(-90 102.70 447.88)" stroke="#222" stroke-width="0.15">180</text>
<text x="102.70" y="430.34" font-family="'Liberation Sans', sans-serif" font-size="6.2" text-anchor="middle" fill="#222" transform="rotate(-90 102.70 430.34)" stroke="#222" stroke-width="0.15">240</text>
<text x="102.70" y="412.80" font-family="'Liberation Sans', sans-serif" font-size="6.2" text-anchor="middle" fill="#222" transform="rotate(-90 102.70 412.80)" stroke="#222" stroke-width="0.15">300</text>
<text x="95.70" y="458.65" font-family="'Liberation Sans', sans-serif" font-size="6.2" text-anchor="middle" fill="#222" transform="rotate(-90 95.70 458.65)" stroke="#222" stroke-width="0.15">Counts</text>
<text x="108.00" y="510.80" font-family="'Liberation Sans', sans-serif" font-size="6.2" text-anchor="end" fill="#222">10</text>
<text x="108.20" y="508.40" font-family="'Liberation Sans', sans-serif" font-size="4.960000000000001" text-anchor="start" fill="#222">0</text>
<text x="138.25" y="510.80" font-family="'Liberation Sans', sans-serif" font-size="6.2" text-anchor="end" fill="#222">10</text>
<text x="138.45" y="508.40" font-family="'Liberation Sans', sans-serif" font-size="4.960000000000001" text-anchor="start" fill="#222">1</text>
<text x="168.50" y="510.80" font-family="'Liberation Sans', sans-serif" font-size="6.2" text-anchor="end" fill="#222">10</text>
<text x="168.70" y="508.40" font-family="'Liberation Sans', sans-serif" font-size="4.960000000000001" text-anchor="start" fill="#222">2</text>
<text x="198.75" y="510.80" font-family="'Liberation Sans', sans-serif" font-size="6.2" text-anchor="end" fill="#222">10</text>
<text x="198.95" y="508.40" font-family="'Liberation Sans', sans-serif" font-size="4.960000000000001" text-anchor="start" fill="#222">3</text>
<text x="229.00" y="510.80" font-family="'Liberation Sans', sans-serif" font-size="6.2" text-anchor="end" fill="#222">10</text>
<text x="229.20" y="508.40" font-family="'Liberation Sans', sans-serif" font-size="4.960000000000001" text-anchor="start" fill="#222">4</text>
<text x="167.50" y="517.30" font-family="'Liberation Sans', sans-serif" font-size="6.2" text-anchor="middle" fill="#222">FL1-Height</text>
<line x1="145.20" y1="475.80" x2="228.00" y2="475.80" stroke="#444" stroke-width="1.4" stroke-linecap="butt"/>
<line x1="145.20" y1="471.30" x2="145.20" y2="480.30" stroke="#333" stroke-width="1.2" stroke-linecap="butt"/>
<text x="187.84" y="482.20" font-family="'Liberation Sans', sans-serif" font-size="5.89" text-anchor="start" fill="#111" textLength="3.90" lengthAdjust="spacingAndGlyphs" stroke="#111" stroke-width="0.15">M</text>
<text x="196.20" y="482.20" font-family="'Liberation Sans', sans-serif" font-size="5.89" text-anchor="end" fill="#111" stroke="#111" stroke-width="0.15">1</text>
<text x="168.50" y="455.80" font-family="'Liberation Serif', serif" font-size="14" font-weight="bold" text-anchor="start" fill="#000" textLength="31.20" lengthAdjust="spacingAndGlyphs">52 %</text>
<clipPath id="c282_412"><rect x="282.00" y="412.60" width="121.00" height="89.20"/></clipPath>
<path d="M298.00,501.80 C298.58,501.30 300.67,501.13 301.50,498.80 C302.33,496.47 302.33,492.95 303.00,487.80 C303.67,482.65 304.83,474.55 305.50,467.90 C306.17,461.25 306.50,454.55 307.00,447.90 C307.50,441.25 307.83,433.82 308.50,428.00 C309.17,422.18 310.17,413.00 311.00,413.00 C311.83,413.00 312.92,422.18 313.50,428.00 C314.08,433.82 314.08,441.25 314.50,447.90 C314.92,454.55 315.42,461.25 316.00,467.90 C316.58,474.55 317.33,482.62 318.00,487.80 C318.67,492.98 319.33,496.67 320.00,499.00 C320.67,501.33 321.67,501.33 322.00,501.80" fill="none" stroke="#333" stroke-width="1.3" stroke-dasharray="1.8 1.8" clip-path="url(#c282_412)"/>
<path d="M300.00,501.80 C300.83,501.50 303.50,502.33 305.00,500.00 C306.50,497.67 308.00,493.15 309.00,487.80 C310.00,482.45 310.42,474.55 311.00,467.90 C311.58,461.25 312.00,454.55 312.50,447.90 C313.00,441.25 313.45,433.48 314.00,428.00 C314.55,422.52 315.30,415.00 315.80,415.00 C316.30,415.00 316.47,422.52 317.00,428.00 C317.53,433.48 318.38,441.25 319.00,447.90 C319.62,454.55 319.87,461.25 320.70,467.90 C321.53,474.55 322.78,482.62 324.00,487.80 C325.22,492.98 326.50,496.72 328.00,499.00 C329.50,501.28 331.33,501.03 333.00,501.50 C334.67,501.97 337.17,501.75 338.00,501.80" fill="none" stroke="#222" stroke-width="1.3" clip-path="url(#c282_412)"/>
<line x1="282.00" y1="412.60" x2="403.00" y2="412.60" stroke="#555" stroke-width="1.2" stroke-linecap="butt"/>
<line x1="403.00" y1="412.60" x2="403.00" y2="501.80" stroke="#666" stroke-width="1.2" stroke-linecap="butt"/>
<line x1="282.00" y1="412.60" x2="282.00" y2="501.80" stroke="#666" stroke-width="1.0" stroke-linecap="butt"/>
<line x1="282.00" y1="501.80" x2="403.00" y2="501.80" stroke="#222" stroke-width="1.5" stroke-linecap="butt"/>
<line x1="280.70" y1="412.60" x2="282.20" y2="412.60" stroke="#111" stroke-width="1.4" stroke-linecap="butt"/>
<line x1="280.70" y1="416.17" x2="282.20" y2="416.17" stroke="#111" stroke-width="1.4" stroke-linecap="butt"/>
<line x1="280.70" y1="419.74" x2="282.20" y2="419.74" stroke="#111" stroke-width="1.4" stroke-linecap="butt"/>
<line x1="280.70" y1="423.30" x2="282.20" y2="423.30" stroke="#111" stroke-width="1.4" stroke-linecap="butt"/>
<line x1="280.70" y1="426.87" x2="282.20" y2="426.87" stroke="#111" stroke-width="1.4" stroke-linecap="butt"/>
<line x1="280.70" y1="430.44" x2="282.20" y2="430.44" stroke="#111" stroke-width="1.4" stroke-linecap="butt"/>
<line x1="280.70" y1="434.01" x2="282.20" y2="434.01" stroke="#111" stroke-width="1.4" stroke-linecap="butt"/>
<line x1="280.70" y1="437.58" x2="282.20" y2="437.58" stroke="#111" stroke-width="1.4" stroke-linecap="butt"/>
<line x1="280.70" y1="441.14" x2="282.20" y2="441.14" stroke="#111" stroke-width="1.4" stroke-linecap="butt"/>
<line x1="280.70" y1="444.71" x2="282.20" y2="444.71" stroke="#111" stroke-width="1.4" stroke-linecap="butt"/>
<line x1="280.70" y1="448.28" x2="282.20" y2="448.28" stroke="#111" stroke-width="1.4" stroke-linecap="butt"/>
<line x1="280.70" y1="451.85" x2="282.20" y2="451.85" stroke="#111" stroke-width="1.4" stroke-linecap="butt"/>
<line x1="280.70" y1="455.42" x2="282.20" y2="455.42" stroke="#111" stroke-width="1.4" stroke-linecap="butt"/>
<line x1="280.70" y1="458.98" x2="282.20" y2="458.98" stroke="#111" stroke-width="1.4" stroke-linecap="butt"/>
<line x1="280.70" y1="462.55" x2="282.20" y2="462.55" stroke="#111" stroke-width="1.4" stroke-linecap="butt"/>
<line x1="280.70" y1="466.12" x2="282.20" y2="466.12" stroke="#111" stroke-width="1.4" stroke-linecap="butt"/>
<line x1="280.70" y1="469.69" x2="282.20" y2="469.69" stroke="#111" stroke-width="1.4" stroke-linecap="butt"/>
<line x1="280.70" y1="473.26" x2="282.20" y2="473.26" stroke="#111" stroke-width="1.4" stroke-linecap="butt"/>
<line x1="280.70" y1="476.82" x2="282.20" y2="476.82" stroke="#111" stroke-width="1.4" stroke-linecap="butt"/>
<line x1="280.70" y1="480.39" x2="282.20" y2="480.39" stroke="#111" stroke-width="1.4" stroke-linecap="butt"/>
<line x1="280.70" y1="483.96" x2="282.20" y2="483.96" stroke="#111" stroke-width="1.4" stroke-linecap="butt"/>
<line x1="280.70" y1="487.53" x2="282.20" y2="487.53" stroke="#111" stroke-width="1.4" stroke-linecap="butt"/>
<line x1="280.70" y1="491.10" x2="282.20" y2="491.10" stroke="#111" stroke-width="1.4" stroke-linecap="butt"/>
<line x1="280.70" y1="494.66" x2="282.20" y2="494.66" stroke="#111" stroke-width="1.4" stroke-linecap="butt"/>
<line x1="280.70" y1="498.23" x2="282.20" y2="498.23" stroke="#111" stroke-width="1.4" stroke-linecap="butt"/>
<line x1="280.70" y1="501.80" x2="282.20" y2="501.80" stroke="#111" stroke-width="1.4" stroke-linecap="butt"/>
<line x1="279.00" y1="412.60" x2="282.00" y2="412.60" stroke="#222" stroke-width="1.1" stroke-linecap="butt"/>
<line x1="279.00" y1="430.44" x2="282.00" y2="430.44" stroke="#222" stroke-width="1.1" stroke-linecap="butt"/>
<line x1="279.00" y1="448.28" x2="282.00" y2="448.28" stroke="#222" stroke-width="1.1" stroke-linecap="butt"/>
<line x1="279.00" y1="466.12" x2="282.00" y2="466.12" stroke="#222" stroke-width="1.1" stroke-linecap="butt"/>
<line x1="279.00" y1="483.96" x2="282.00" y2="483.96" stroke="#222" stroke-width="1.1" stroke-linecap="butt"/>
<line x1="279.00" y1="501.80" x2="282.00" y2="501.80" stroke="#222" stroke-width="1.1" stroke-linecap="butt"/>
<line x1="282.00" y1="501.80" x2="282.00" y2="504.00" stroke="#444" stroke-width="0.9" stroke-linecap="butt"/>
<line x1="291.11" y1="501.80" x2="291.11" y2="502.90" stroke="#444" stroke-width="0.9" stroke-linecap="butt"/>
<line x1="296.43" y1="501.80" x2="296.43" y2="502.90" stroke="#444" stroke-width="0.9" stroke-linecap="butt"/>
<line x1="300.21" y1="501.80" x2="300.21" y2="502.90" stroke="#444" stroke-width="0.9" stroke-linecap="butt"/>
<line x1="303.14" y1="501.80" x2="303.14" y2="502.90" stroke="#444" stroke-width="0.9" stroke-linecap="butt"/>
<line x1="305.54" y1="501.80" x2="305.54" y2="502.90" stroke="#444" stroke-width="0.9" stroke-linecap="butt"/>
<line x1="307.56" y1="501.80" x2="307.56" y2="502.90" stroke="#444" stroke-width="0.9" stroke-linecap="butt"/>
<line x1="309.32" y1="501.80" x2="309.32" y2="502.90" stroke="#444" stroke-width="0.9" stroke-linecap="butt"/>
<line x1="310.87" y1="501.80" x2="310.87" y2="502.90" stroke="#444" stroke-width="0.9" stroke-linecap="butt"/>
<line x1="312.25" y1="501.80" x2="312.25" y2="504.00" stroke="#444" stroke-width="0.9" stroke-linecap="butt"/>
<line x1="321.36" y1="501.80" x2="321.36" y2="502.90" stroke="#444" stroke-width="0.9" stroke-linecap="butt"/>
<line x1="326.68" y1="501.80" x2="326.68" y2="502.90" stroke="#444" stroke-width="0.9" stroke-linecap="butt"/>
<line x1="330.46" y1="501.80" x2="330.46" y2="502.90" stroke="#444" stroke-width="0.9" stroke-linecap="butt"/>
<line x1="333.39" y1="501.80" x2="333.39" y2="502.90" stroke="#444" stroke-width="0.9" stroke-linecap="butt"/>
<line x1="335.79" y1="501.80" x2="335.79" y2="502.90" stroke="#444" stroke-width="0.9" stroke-linecap="butt"/>
<line x1="337.81" y1="501.80" x2="337.81" y2="502.90" stroke="#444" stroke-width="0.9" stroke-linecap="butt"/>
<line x1="339.57" y1="501.80" x2="339.57" y2="502.90" stroke="#444" stroke-width="0.9" stroke-linecap="butt"/>
<line x1="341.12" y1="501.80" x2="341.12" y2="502.90" stroke="#444" stroke-width="0.9" stroke-linecap="butt"/>
<line x1="342.50" y1="501.80" x2="342.50" y2="504.00" stroke="#444" stroke-width="0.9" stroke-linecap="butt"/>
<line x1="351.61" y1="501.80" x2="351.61" y2="502.90" stroke="#444" stroke-width="0.9" stroke-linecap="butt"/>
<line x1="356.93" y1="501.80" x2="356.93" y2="502.90" stroke="#444" stroke-width="0.9" stroke-linecap="butt"/>
<line x1="360.71" y1="501.80" x2="360.71" y2="502.90" stroke="#444" stroke-width="0.9" stroke-linecap="butt"/>
<line x1="363.64" y1="501.80" x2="363.64" y2="502.90" stroke="#444" stroke-width="0.9" stroke-linecap="butt"/>
<line x1="366.04" y1="501.80" x2="366.04" y2="502.90" stroke="#444" stroke-width="0.9" stroke-linecap="butt"/>
<line x1="368.06" y1="501.80" x2="368.06" y2="502.90" stroke="#444" stroke-width="0.9" stroke-linecap="butt"/>
<line x1="369.82" y1="501.80" x2="369.82" y2="502.90" stroke="#444" stroke-width="0.9" stroke-linecap="butt"/>
<line x1="371.37" y1="501.80" x2="371.37" y2="502.90" stroke="#444" stroke-width="0.9" stroke-linecap="butt"/>
<line x1="372.75" y1="501.80" x2="372.75" y2="504.00" stroke="#444" stroke-width="0.9" stroke-linecap="butt"/>
<line x1="381.86" y1="501.80" x2="381.86" y2="502.90" stroke="#444" stroke-width="0.9" stroke-linecap="butt"/>
<line x1="387.18" y1="501.80" x2="387.18" y2="502.90" stroke="#444" stroke-width="0.9" stroke-linecap="butt"/>
<line x1="390.96" y1="501.80" x2="390.96" y2="502.90" stroke="#444" stroke-width="0.9" stroke-linecap="butt"/>
<line x1="393.89" y1="501.80" x2="393.89" y2="502.90" stroke="#444" stroke-width="0.9" stroke-linecap="butt"/>
<line x1="396.29" y1="501.80" x2="396.29" y2="502.90" stroke="#444" stroke-width="0.9" stroke-linecap="butt"/>
<line x1="398.31" y1="501.80" x2="398.31" y2="502.90" stroke="#444" stroke-width="0.9" stroke-linecap="butt"/>
<line x1="400.07" y1="501.80" x2="400.07" y2="502.90" stroke="#444" stroke-width="0.9" stroke-linecap="butt"/>
<line x1="401.62" y1="501.80" x2="401.62" y2="502.90" stroke="#444" stroke-width="0.9" stroke-linecap="butt"/>
<line x1="403.00" y1="501.80" x2="403.00" y2="504.00" stroke="#444" stroke-width="0.9" stroke-linecap="butt"/>
<text x="277.70" y="500.80" font-family="'Liberation Sans', sans-serif" font-size="6.2" text-anchor="middle" fill="#222" transform="rotate(-90 277.70 500.80)" stroke="#222" stroke-width="0.15">0</text>
<text x="277.70" y="482.96" font-family="'Liberation Sans', sans-serif" font-size="6.2" text-anchor="middle" fill="#222" transform="rotate(-90 277.70 482.96)" stroke="#222" stroke-width="0.15">60</text>
<text x="277.70" y="465.12" font-family="'Liberation Sans', sans-serif" font-size="6.2" text-anchor="middle" fill="#222" transform="rotate(-90 277.70 465.12)" stroke="#222" stroke-width="0.15">120</text>
<text x="277.70" y="447.28" font-family="'Liberation Sans', sans-serif" font-size="6.2" text-anchor="middle" fill="#222" transform="rotate(-90 277.70 447.28)" stroke="#222" stroke-width="0.15">180</text>
<text x="277.70" y="429.44" font-family="'Liberation Sans', sans-serif" font-size="6.2" text-anchor="middle" fill="#222" transform="rotate(-90 277.70 429.44)" stroke="#222" stroke-width="0.15">240</text>
<text x="277.70" y="411.60" font-family="'Liberation Sans', sans-serif" font-size="6.2" text-anchor="middle" fill="#222" transform="rotate(-90 277.70 411.60)" stroke="#222" stroke-width="0.15">300</text>
<text x="270.70" y="458.20" font-family="'Liberation Sans', sans-serif" font-size="6.2" text-anchor="middle" fill="#222" transform="rotate(-90 270.70 458.20)" stroke="#222" stroke-width="0.15">Counts</text>
<text x="283.00" y="511.10" font-family="'Liberation Sans', sans-serif" font-size="6.2" text-anchor="end" fill="#222">10</text>
<text x="283.20" y="508.70" font-family="'Liberation Sans', sans-serif" font-size="4.960000000000001" text-anchor="start" fill="#222">0</text>
<text x="313.25" y="511.10" font-family="'Liberation Sans', sans-serif" font-size="6.2" text-anchor="end" fill="#222">10</text>
<text x="313.45" y="508.70" font-family="'Liberation Sans', sans-serif" font-size="4.960000000000001" text-anchor="start" fill="#222">1</text>
<text x="343.50" y="511.10" font-family="'Liberation Sans', sans-serif" font-size="6.2" text-anchor="end" fill="#222">10</text>
<text x="343.70" y="508.70" font-family="'Liberation Sans', sans-serif" font-size="4.960000000000001" text-anchor="start" fill="#222">2</text>
<text x="373.75" y="511.10" font-family="'Liberation Sans', sans-serif" font-size="6.2" text-anchor="end" fill="#222">10</text>
<text x="373.95" y="508.70" font-family="'Liberation Sans', sans-serif" font-size="4.960000000000001" text-anchor="start" fill="#222">3</text>
<text x="404.00" y="511.10" font-family="'Liberation Sans', sans-serif" font-size="6.2" text-anchor="end" fill="#222">10</text>
<text x="404.20" y="508.70" font-family="'Liberation Sans', sans-serif" font-size="4.960000000000001" text-anchor="start" fill="#222">4</text>
<text x="342.50" y="517.60" font-family="'Liberation Sans', sans-serif" font-size="6.2" text-anchor="middle" fill="#222">FL1-Height</text>
<line x1="320.70" y1="475.90" x2="403.00" y2="475.90" stroke="#444" stroke-width="1.15" stroke-linecap="butt"/>
<line x1="320.70" y1="471.40" x2="320.70" y2="480.40" stroke="#333" stroke-width="1.2" stroke-linecap="butt"/>
<text x="363.08" y="482.30" font-family="'Liberation Sans', sans-serif" font-size="5.89" text-anchor="start" fill="#111" textLength="3.90" lengthAdjust="spacingAndGlyphs" stroke="#111" stroke-width="0.15">M</text>
<text x="371.40" y="482.30" font-family="'Liberation Sans', sans-serif" font-size="5.89" text-anchor="end" fill="#111" stroke="#111" stroke-width="0.15">1</text>
<text x="344.90" y="455.50" font-family="'Liberation Serif', serif" font-size="14" font-weight="bold" text-anchor="start" fill="#000" textLength="31.80" lengthAdjust="spacingAndGlyphs">19 %</text>
<line x1="73.80" y1="538.50" x2="380.00" y2="538.50" stroke="#000" stroke-width="5.0" stroke-linecap="butt"/>
<polygon points="378.3,533.1 391.4,538.5 378.3,543.9" fill="#000"/>
<text x="396.80" y="543.00" font-family="'Liberation Serif', serif" font-size="14" text-anchor="start" fill="#000" textLength="73.90" lengthAdjust="spacingAndGlyphs">p-HistoneH3</text>
<text x="396.80" y="559.00" font-family="'Liberation Serif', serif" font-size="14" text-anchor="start" fill="#000" textLength="44.00" lengthAdjust="spacingAndGlyphs">(Ser10)</text>
<line x1="89.80" y1="565.00" x2="135.60" y2="565.00" stroke="#777" stroke-width="1.2" stroke-linecap="butt"/>
<text x="141.20" y="573.40" font-family="'Liberation Serif', serif" font-size="14" text-anchor="start" fill="#000" textLength="74.60" lengthAdjust="spacingAndGlyphs">p-HistoneH3</text>
<line x1="243.80" y1="566.00" x2="289.40" y2="566.00" stroke="#333" stroke-width="1.5" stroke-dasharray="2.4 1.4" stroke-linecap="butt"/>
<text x="309.00" y="570.60" font-family="'Liberation Serif', serif" font-size="14" text-anchor="start" fill="#000" textLength="28.80" lengthAdjust="spacingAndGlyphs">IgG1</text>
<text x="70.40" y="610.30" font-family="'Liberation Sans', sans-serif" font-size="23" font-weight="bold" text-anchor="start" fill="#000">D</text>
<text x="140.80" y="610.10" font-family="'Liberation Serif', serif" font-size="14.2" text-anchor="start" fill="#000" textLength="44.00" lengthAdjust="spacingAndGlyphs">Control</text>
<text x="267.40" y="610.80" font-family="'Liberation Serif', serif" font-size="14" text-anchor="start" fill="#000" textLength="93.80" lengthAdjust="spacingAndGlyphs">AZD1152 3 nM</text>
<text x="74.90" y="660.20" font-family="'Liberation Serif', serif" font-size="15.5" text-anchor="start" fill="#000" textLength="7.00" lengthAdjust="spacingAndGlyphs">#</text>
<text x="86.20" y="660.20" font-family="'Liberation Serif', serif" font-size="14.5" text-anchor="start" fill="#000" textLength="6.60" lengthAdjust="spacingAndGlyphs">8</text>
<text x="74.90" y="751.00" font-family="'Liberation Serif', serif" font-size="15.5" text-anchor="start" fill="#000" textLength="7.00" lengthAdjust="spacingAndGlyphs">#</text>
<text x="85.40" y="751.00" font-family="'Liberation Serif', serif" font-size="14.5" text-anchor="start" fill="#000" textLength="7.20" lengthAdjust="spacingAndGlyphs">9</text>
<text x="75.60" y="858.50" font-family="'Liberation Serif', serif" font-size="15.5" text-anchor="start" fill="#000" textLength="7.00" lengthAdjust="spacingAndGlyphs">#</text>
<text x="88.30" y="858.50" font-family="'Liberation Serif', serif" font-size="14.5" text-anchor="start" fill="#000" textLength="13.20" lengthAdjust="spacingAndGlyphs">10</text>
<clipPath id="c119_620"><rect x="119.80" y="620.00" width="102.00" height="66.20"/></clipPath>
<path d="M131.00,686.20 C131.77,685.83 134.47,685.05 135.60,684.00 C136.73,682.95 137.07,682.75 137.80,679.90 C138.53,677.05 139.50,671.95 140.00,666.90 C140.50,661.85 140.45,655.37 140.80,649.60 C141.15,643.83 141.67,637.23 142.10,632.30 C142.53,627.37 142.97,624.55 143.40,620.00 C143.83,615.45 144.27,605.00 144.70,605.00 C145.13,605.00 145.78,615.50 146.00,620.00 C146.22,624.50 145.85,627.07 146.00,632.00 C146.15,636.93 146.62,643.78 146.90,649.60 C147.18,655.42 147.42,661.83 147.70,666.90 C147.98,671.97 148.30,676.98 148.60,680.00 C148.90,683.02 149.10,683.97 149.50,685.00 C149.90,686.03 150.75,686.00 151.00,686.20" fill="none" stroke="#555" stroke-width="1.15" stroke-dasharray="1.8 1.8" clip-path="url(#c119_620)"/>
<path d="M141.00,686.20 C141.77,686.08 144.33,686.53 145.60,685.50 C146.87,684.47 147.60,683.10 148.60,680.00 C149.60,676.90 150.80,671.97 151.60,666.90 C152.40,661.83 152.88,655.37 153.40,649.60 C153.92,643.83 154.35,637.32 154.70,632.30 C155.05,627.28 155.20,621.63 155.50,619.50 C155.80,617.37 156.17,617.37 156.50,619.50 C156.83,621.63 157.17,627.28 157.50,632.30 C157.83,637.32 158.03,643.83 158.50,649.60 C158.97,655.37 159.65,661.83 160.30,666.90 C160.95,671.97 161.75,676.82 162.40,680.00 C163.05,683.18 163.27,684.97 164.20,686.00 C165.13,687.03 167.37,686.17 168.00,686.20" fill="none" stroke="#333" stroke-width="1.2" clip-path="url(#c119_620)"/>
<line x1="119.80" y1="620.00" x2="221.80" y2="620.00" stroke="#666" stroke-width="1.2" stroke-linecap="butt"/>
<line x1="221.80" y1="620.00" x2="221.80" y2="686.20" stroke="#777" stroke-width="1.2" stroke-linecap="butt"/>
<line x1="119.80" y1="620.00" x2="119.80" y2="686.20" stroke="#666" stroke-width="1.0" stroke-linecap="butt"/>
<line x1="119.80" y1="686.20" x2="221.80" y2="686.20" stroke="#222" stroke-width="1.5" stroke-linecap="butt"/>
<line x1="118.50" y1="620.00" x2="120.00" y2="620.00" stroke="#111" stroke-width="1.4" stroke-linecap="butt"/>
<line x1="118.50" y1="622.65" x2="120.00" y2="622.65" stroke="#111" stroke-width="1.4" stroke-linecap="butt"/>
<line x1="118.50" y1="625.30" x2="120.00" y2="625.30" stroke="#111" stroke-width="1.4" stroke-linecap="butt"/>
<line x1="118.50" y1="627.94" x2="120.00" y2="627.94" stroke="#111" stroke-width="1.4" stroke-linecap="butt"/>
<line x1="118.50" y1="630.59" x2="120.00" y2="630.59" stroke="#111" stroke-width="1.4" stroke-linecap="butt"/>
<line x1="118.50" y1="633.24" x2="120.00" y2="633.24" stroke="#111" stroke-width="1.4" stroke-linecap="butt"/>
<line x1="118.50" y1="635.89" x2="120.00" y2="635.89" stroke="#111" stroke-width="1.4" stroke-linecap="butt"/>
<line x1="118.50" y1="638.54" x2="120.00" y2="638.54" stroke="#111" stroke-width="1.4" stroke-linecap="butt"/>
<line x1="118.50" y1="641.18" x2="120.00" y2="641.18" stroke="#111" stroke-width="1.4" stroke-linecap="butt"/>
<line x1="118.50" y1="643.83" x2="120.00" y2="643.83" stroke="#111" stroke-width="1.4" stroke-linecap="butt"/>
<line x1="118.50" y1="646.48" x2="120.00" y2="646.48" stroke="#111" stroke-width="1.4" stroke-linecap="butt"/>
<line x1="118.50" y1="649.13" x2="120.00" y2="649.13" stroke="#111" stroke-width="1.4" stroke-linecap="butt"/>
<line x1="118.50" y1="651.78" x2="120.00" y2="651.78" stroke="#111" stroke-width="1.4" stroke-linecap="butt"/>
<line x1="118.50" y1="654.42" x2="120.00" y2="654.42" stroke="#111" stroke-width="1.4" stroke-linecap="butt"/>
<line x1="118.50" y1="657.07" x2="120.00" y2="657.07" stroke="#111" stroke-width="1.4" stroke-linecap="butt"/>
<line x1="118.50" y1="659.72" x2="120.00" y2="659.72" stroke="#111" stroke-width="1.4" stroke-linecap="butt"/>
<line x1="118.50" y1="662.37" x2="120.00" y2="662.37" stroke="#111" stroke-width="1.4" stroke-linecap="butt"/>
<line x1="118.50" y1="665.02" x2="120.00" y2="665.02" stroke="#111" stroke-width="1.4" stroke-linecap="butt"/>
<line x1="118.50" y1="667.66" x2="120.00" y2="667.66" stroke="#111" stroke-width="1.4" stroke-linecap="butt"/>
<line x1="118.50" y1="670.31" x2="120.00" y2="670.31" stroke="#111" stroke-width="1.4" stroke-linecap="butt"/>
<line x1="118.50" y1="672.96" x2="120.00" y2="672.96" stroke="#111" stroke-width="1.4" stroke-linecap="butt"/>
<line x1="118.50" y1="675.61" x2="120.00" y2="675.61" stroke="#111" stroke-width="1.4" stroke-linecap="butt"/>
<line x1="118.50" y1="678.26" x2="120.00" y2="678.26" stroke="#111" stroke-width="1.4" stroke-linecap="butt"/>
<line x1="118.50" y1="680.90" x2="120.00" y2="680.90" stroke="#111" stroke-width="1.4" stroke-linecap="butt"/>
<line x1="118.50" y1="683.55" x2="120.00" y2="683.55" stroke="#111" stroke-width="1.4" stroke-linecap="butt"/>
<line x1="118.50" y1="686.20" x2="120.00" y2="686.20" stroke="#111" stroke-width="1.4" stroke-linecap="butt"/>
<line x1="116.80" y1="620.00" x2="119.80" y2="620.00" stroke="#222" stroke-width="1.1" stroke-linecap="butt"/>
<line x1="116.80" y1="633.24" x2="119.80" y2="633.24" stroke="#222" stroke-width="1.1" stroke-linecap="butt"/>
<line x1="116.80" y1="646.48" x2="119.80" y2="646.48" stroke="#222" stroke-width="1.1" stroke-linecap="butt"/>
<line x1="116.80" y1="659.72" x2="119.80" y2="659.72" stroke="#222" stroke-width="1.1" stroke-linecap="butt"/>
<line x1="116.80" y1="672.96" x2="119.80" y2="672.96" stroke="#222" stroke-width="1.1" stroke-linecap="butt"/>
<line x1="116.80" y1="686.20" x2="119.80" y2="686.20" stroke="#222" stroke-width="1.1" stroke-linecap="butt"/>
<line x1="119.80" y1="686.20" x2="119.80" y2="688.40" stroke="#444" stroke-width="0.9" stroke-linecap="butt"/>
<line x1="127.48" y1="686.20" x2="127.48" y2="687.30" stroke="#444" stroke-width="0.9" stroke-linecap="butt"/>
<line x1="131.97" y1="686.20" x2="131.97" y2="687.30" stroke="#444" stroke-width="0.9" stroke-linecap="butt"/>
<line x1="135.15" y1="686.20" x2="135.15" y2="687.30" stroke="#444" stroke-width="0.9" stroke-linecap="butt"/>
<line x1="137.62" y1="686.20" x2="137.62" y2="687.30" stroke="#444" stroke-width="0.9" stroke-linecap="butt"/>
<line x1="139.64" y1="686.20" x2="139.64" y2="687.30" stroke="#444" stroke-width="0.9" stroke-linecap="butt"/>
<line x1="141.35" y1="686.20" x2="141.35" y2="687.30" stroke="#444" stroke-width="0.9" stroke-linecap="butt"/>
<line x1="142.83" y1="686.20" x2="142.83" y2="687.30" stroke="#444" stroke-width="0.9" stroke-linecap="butt"/>
<line x1="144.13" y1="686.20" x2="144.13" y2="687.30" stroke="#444" stroke-width="0.9" stroke-linecap="butt"/>
<line x1="145.30" y1="686.20" x2="145.30" y2="688.40" stroke="#444" stroke-width="0.9" stroke-linecap="butt"/>
<line x1="152.98" y1="686.20" x2="152.98" y2="687.30" stroke="#444" stroke-width="0.9" stroke-linecap="butt"/>
<line x1="157.47" y1="686.20" x2="157.47" y2="687.30" stroke="#444" stroke-width="0.9" stroke-linecap="butt"/>
<line x1="160.65" y1="686.20" x2="160.65" y2="687.30" stroke="#444" stroke-width="0.9" stroke-linecap="butt"/>
<line x1="163.12" y1="686.20" x2="163.12" y2="687.30" stroke="#444" stroke-width="0.9" stroke-linecap="butt"/>
<line x1="165.14" y1="686.20" x2="165.14" y2="687.30" stroke="#444" stroke-width="0.9" stroke-linecap="butt"/>
<line x1="166.85" y1="686.20" x2="166.85" y2="687.30" stroke="#444" stroke-width="0.9" stroke-linecap="butt"/>
<line x1="168.33" y1="686.20" x2="168.33" y2="687.30" stroke="#444" stroke-width="0.9" stroke-linecap="butt"/>
<line x1="169.63" y1="686.20" x2="169.63" y2="687.30" stroke="#444" stroke-width="0.9" stroke-linecap="butt"/>
<line x1="170.80" y1="686.20" x2="170.80" y2="688.40" stroke="#444" stroke-width="0.9" stroke-linecap="butt"/>
<line x1="178.48" y1="686.20" x2="178.48" y2="687.30" stroke="#444" stroke-width="0.9" stroke-linecap="butt"/>
<line x1="182.97" y1="686.20" x2="182.97" y2="687.30" stroke="#444" stroke-width="0.9" stroke-linecap="butt"/>
<line x1="186.15" y1="686.20" x2="186.15" y2="687.30" stroke="#444" stroke-width="0.9" stroke-linecap="butt"/>
<line x1="188.62" y1="686.20" x2="188.62" y2="687.30" stroke="#444" stroke-width="0.9" stroke-linecap="butt"/>
<line x1="190.64" y1="686.20" x2="190.64" y2="687.30" stroke="#444" stroke-width="0.9" stroke-linecap="butt"/>
<line x1="192.35" y1="686.20" x2="192.35" y2="687.30" stroke="#444" stroke-width="0.9" stroke-linecap="butt"/>
<line x1="193.83" y1="686.20" x2="193.83" y2="687.30" stroke="#444" stroke-width="0.9" stroke-linecap="butt"/>
<line x1="195.13" y1="686.20" x2="195.13" y2="687.30" stroke="#444" stroke-width="0.9" stroke-linecap="butt"/>
<line x1="196.30" y1="686.20" x2="196.30" y2="688.40" stroke="#444" stroke-width="0.9" stroke-linecap="butt"/>
<line x1="203.98" y1="686.20" x2="203.98" y2="687.30" stroke="#444" stroke-width="0.9" stroke-linecap="butt"/>
<line x1="208.47" y1="686.20" x2="208.47" y2="687.30" stroke="#444" stroke-width="0.9" stroke-linecap="butt"/>
<line x1="211.65" y1="686.20" x2="211.65" y2="687.30" stroke="#444" stroke-width="0.9" stroke-linecap="butt"/>
<line x1="214.12" y1="686.20" x2="214.12" y2="687.30" stroke="#444" stroke-width="0.9" stroke-linecap="butt"/>
<line x1="216.14" y1="686.20" x2="216.14" y2="687.30" stroke="#444" stroke-width="0.9" stroke-linecap="butt"/>
<line x1="217.85" y1="686.20" x2="217.85" y2="687.30" stroke="#444" stroke-width="0.9" stroke-linecap="butt"/>
<line x1="219.33" y1="686.20" x2="219.33" y2="687.30" stroke="#444" stroke-width="0.9" stroke-linecap="butt"/>
<line x1="220.63" y1="686.20" x2="220.63" y2="687.30" stroke="#444" stroke-width="0.9" stroke-linecap="butt"/>
<line x1="221.80" y1="686.20" x2="221.80" y2="688.40" stroke="#444" stroke-width="0.9" stroke-linecap="butt"/>
<text x="116.00" y="685.20" font-family="'Liberation Sans', sans-serif" font-size="5.1" text-anchor="middle" fill="#222" transform="rotate(-90 116.00 685.20)" stroke="#222" stroke-width="0.15">0</text>
<text x="116.00" y="671.96" font-family="'Liberation Sans', sans-serif" font-size="5.1" text-anchor="middle" fill="#222" transform="rotate(-90 116.00 671.96)" stroke="#222" stroke-width="0.15">60</text>
<text x="116.00" y="658.72" font-family="'Liberation Sans', sans-serif" font-size="5.1" text-anchor="middle" fill="#222" transform="rotate(-90 116.00 658.72)" stroke="#222" stroke-width="0.15">120</text>
<text x="116.00" y="645.48" font-family="'Liberation Sans', sans-serif" font-size="5.1" text-anchor="middle" fill="#222" transform="rotate(-90 116.00 645.48)" stroke="#222" stroke-width="0.15">180</text>
<text x="116.00" y="632.24" font-family="'Liberation Sans', sans-serif" font-size="5.1" text-anchor="middle" fill="#222" transform="rotate(-90 116.00 632.24)" stroke="#222" stroke-width="0.15">240</text>
<text x="116.00" y="619.00" font-family="'Liberation Sans', sans-serif" font-size="5.1" text-anchor="middle" fill="#222" transform="rotate(-90 116.00 619.00)" stroke="#222" stroke-width="0.15">300</text>
<text x="111.00" y="654.10" font-family="'Liberation Sans', sans-serif" font-size="5.1" text-anchor="middle" fill="#222" transform="rotate(-90 111.00 654.10)" stroke="#222" stroke-width="0.15">Counts</text>
<text x="121.80" y="693.90" font-family="'Liberation Sans', sans-serif" font-size="5.1" text-anchor="end" fill="#222">10</text>
<text x="122.00" y="691.50" font-family="'Liberation Sans', sans-serif" font-size="4.08" text-anchor="start" fill="#222">0</text>
<text x="147.30" y="693.90" font-family="'Liberation Sans', sans-serif" font-size="5.1" text-anchor="end" fill="#222">10</text>
<text x="147.50" y="691.50" font-family="'Liberation Sans', sans-serif" font-size="4.08" text-anchor="start" fill="#222">1</text>
<text x="172.80" y="693.90" font-family="'Liberation Sans', sans-serif" font-size="5.1" text-anchor="end" fill="#222">10</text>
<text x="173.00" y="691.50" font-family="'Liberation Sans', sans-serif" font-size="4.08" text-anchor="start" fill="#222">2</text>
<text x="198.30" y="693.90" font-family="'Liberation Sans', sans-serif" font-size="5.1" text-anchor="end" fill="#222">10</text>
<text x="198.50" y="691.50" font-family="'Liberation Sans', sans-serif" font-size="4.08" text-anchor="start" fill="#222">3</text>
<text x="223.80" y="693.90" font-family="'Liberation Sans', sans-serif" font-size="5.1" text-anchor="end" fill="#222">10</text>
<text x="224.00" y="691.50" font-family="'Liberation Sans', sans-serif" font-size="4.08" text-anchor="start" fill="#222">4</text>
<text x="170.80" y="700.40" font-family="'Liberation Sans', sans-serif" font-size="5.1" text-anchor="middle" fill="#222">FL1-Height</text>
<line x1="154.40" y1="669.70" x2="221.80" y2="669.70" stroke="#444" stroke-width="1.1" stroke-linecap="butt"/>
<line x1="154.40" y1="665.20" x2="154.40" y2="674.20" stroke="#333" stroke-width="1.2" stroke-linecap="butt"/>
<text x="189.79" y="675.10" font-family="'Liberation Sans', sans-serif" font-size="4.845" text-anchor="start" fill="#111" textLength="3.40" lengthAdjust="spacingAndGlyphs" stroke="#111" stroke-width="0.15">M</text>
<text x="196.59" y="675.10" font-family="'Liberation Sans', sans-serif" font-size="4.845" text-anchor="end" fill="#111" stroke="#111" stroke-width="0.15">1</text>
<text x="172.60" y="654.80" font-family="'Liberation Serif', serif" font-size="13.9" font-weight="bold" text-anchor="start" fill="#000" textLength="28.60" lengthAdjust="spacingAndGlyphs">73 %</text>
<clipPath id="c266_619"><rect x="266.10" y="619.30" width="101.50" height="67.30"/></clipPath>
<path d="M278.00,686.60 C278.50,686.42 279.92,686.60 281.00,685.50 C282.08,684.40 283.63,683.10 284.50,680.00 C285.37,676.90 285.70,671.97 286.20,666.90 C286.70,661.83 287.20,655.37 287.50,649.60 C287.80,643.83 287.85,637.35 288.00,632.30 C288.15,627.25 288.02,623.85 288.40,619.30 C288.78,614.75 289.65,605.00 290.30,605.00 C290.95,605.00 291.97,614.80 292.30,619.30 C292.63,623.80 292.23,626.95 292.30,632.00 C292.37,637.05 292.43,643.78 292.70,649.60 C292.97,655.42 293.57,661.83 293.90,666.90 C294.23,671.97 294.38,676.98 294.70,680.00 C295.02,683.02 295.42,683.90 295.80,685.00 C296.18,686.10 296.80,686.33 297.00,686.60" fill="none" stroke="#555" stroke-width="1.15" stroke-dasharray="1.8 1.8" clip-path="url(#c266_619)"/>
<path d="M284.00,686.60 C284.67,686.50 286.77,687.10 288.00,686.00 C289.23,684.90 290.40,683.18 291.40,680.00 C292.40,676.82 293.27,671.97 294.00,666.90 C294.73,661.83 295.30,655.37 295.80,649.60 C296.30,643.83 296.65,637.32 297.00,632.30 C297.35,627.28 297.38,621.63 297.90,619.50 C298.42,617.37 299.62,617.37 300.10,619.50 C300.58,621.63 300.52,627.28 300.80,632.30 C301.08,637.32 301.48,643.83 301.80,649.60 C302.12,655.37 302.27,661.83 302.70,666.90 C303.13,671.97 303.83,676.82 304.40,680.00 C304.97,683.18 305.17,684.90 306.10,686.00 C307.03,687.10 309.35,686.50 310.00,686.60" fill="none" stroke="#333" stroke-width="1.2" clip-path="url(#c266_619)"/>
<line x1="266.10" y1="619.30" x2="367.60" y2="619.30" stroke="#666" stroke-width="1.2" stroke-linecap="butt"/>
<line x1="367.60" y1="619.30" x2="367.60" y2="686.60" stroke="#777" stroke-width="1.2" stroke-linecap="butt"/>
<line x1="266.10" y1="619.30" x2="266.10" y2="686.60" stroke="#666" stroke-width="1.0" stroke-linecap="butt"/>
<line x1="266.10" y1="686.60" x2="367.60" y2="686.60" stroke="#222" stroke-width="1.5" stroke-linecap="butt"/>
<line x1="264.80" y1="619.30" x2="266.30" y2="619.30" stroke="#111" stroke-width="1.4" stroke-linecap="butt"/>
<line x1="264.80" y1="621.99" x2="266.30" y2="621.99" stroke="#111" stroke-width="1.4" stroke-linecap="butt"/>
<line x1="264.80" y1="624.68" x2="266.30" y2="624.68" stroke="#111" stroke-width="1.4" stroke-linecap="butt"/>
<line x1="264.80" y1="627.38" x2="266.30" y2="627.38" stroke="#111" stroke-width="1.4" stroke-linecap="butt"/>
<line x1="264.80" y1="630.07" x2="266.30" y2="630.07" stroke="#111" stroke-width="1.4" stroke-linecap="butt"/>
<line x1="264.80" y1="632.76" x2="266.30" y2="632.76" stroke="#111" stroke-width="1.4" stroke-linecap="butt"/>
<line x1="264.80" y1="635.45" x2="266.30" y2="635.45" stroke="#111" stroke-width="1.4" stroke-linecap="butt"/>
<line x1="264.80" y1="638.14" x2="266.30" y2="638.14" stroke="#111" stroke-width="1.4" stroke-linecap="butt"/>
<line x1="264.80" y1="640.84" x2="266.30" y2="640.84" stroke="#111" stroke-width="1.4" stroke-linecap="butt"/>
<line x1="264.80" y1="643.53" x2="266.30" y2="643.53" stroke="#111" stroke-width="1.4" stroke-linecap="butt"/>
<line x1="264.80" y1="646.22" x2="266.30" y2="646.22" stroke="#111" stroke-width="1.4" stroke-linecap="butt"/>
<line x1="264.80" y1="648.91" x2="266.30" y2="648.91" stroke="#111" stroke-width="1.4" stroke-linecap="butt"/>
<line x1="264.80" y1="651.60" x2="266.30" y2="651.60" stroke="#111" stroke-width="1.4" stroke-linecap="butt"/>
<line x1="264.80" y1="654.30" x2="266.30" y2="654.30" stroke="#111" stroke-width="1.4" stroke-linecap="butt"/>
<line x1="264.80" y1="656.99" x2="266.30" y2="656.99" stroke="#111" stroke-width="1.4" stroke-linecap="butt"/>
<line x1="264.80" y1="659.68" x2="266.30" y2="659.68" stroke="#111" stroke-width="1.4" stroke-linecap="butt"/>
<line x1="264.80" y1="662.37" x2="266.30" y2="662.37" stroke="#111" stroke-width="1.4" stroke-linecap="butt"/>
<line x1="264.80" y1="665.06" x2="266.30" y2="665.06" stroke="#111" stroke-width="1.4" stroke-linecap="butt"/>
<line x1="264.80" y1="667.76" x2="266.30" y2="667.76" stroke="#111" stroke-width="1.4" stroke-linecap="butt"/>
<line x1="264.80" y1="670.45" x2="266.30" y2="670.45" stroke="#111" stroke-width="1.4" stroke-linecap="butt"/>
<line x1="264.80" y1="673.14" x2="266.30" y2="673.14" stroke="#111" stroke-width="1.4" stroke-linecap="butt"/>
<line x1="264.80" y1="675.83" x2="266.30" y2="675.83" stroke="#111" stroke-width="1.4" stroke-linecap="butt"/>
<line x1="264.80" y1="678.52" x2="266.30" y2="678.52" stroke="#111" stroke-width="1.4" stroke-linecap="butt"/>
<line x1="264.80" y1="681.22" x2="266.30" y2="681.22" stroke="#111" stroke-width="1.4" stroke-linecap="butt"/>
<line x1="264.80" y1="683.91" x2="266.30" y2="683.91" stroke="#111" stroke-width="1.4" stroke-linecap="butt"/>
<line x1="264.80" y1="686.60" x2="266.30" y2="686.60" stroke="#111" stroke-width="1.4" stroke-linecap="butt"/>
<line x1="263.10" y1="619.30" x2="266.10" y2="619.30" stroke="#222" stroke-width="1.1" stroke-linecap="butt"/>
<line x1="263.10" y1="632.76" x2="266.10" y2="632.76" stroke="#222" stroke-width="1.1" stroke-linecap="butt"/>
<line x1="263.10" y1="646.22" x2="266.10" y2="646.22" stroke="#222" stroke-width="1.1" stroke-linecap="butt"/>
<line x1="263.10" y1="659.68" x2="266.10" y2="659.68" stroke="#222" stroke-width="1.1" stroke-linecap="butt"/>
<line x1="263.10" y1="673.14" x2="266.10" y2="673.14" stroke="#222" stroke-width="1.1" stroke-linecap="butt"/>
<line x1="263.10" y1="686.60" x2="266.10" y2="686.60" stroke="#222" stroke-width="1.1" stroke-linecap="butt"/>
<line x1="266.10" y1="686.60" x2="266.10" y2="688.80" stroke="#444" stroke-width="0.9" stroke-linecap="butt"/>
<line x1="273.74" y1="686.60" x2="273.74" y2="687.70" stroke="#444" stroke-width="0.9" stroke-linecap="butt"/>
<line x1="278.21" y1="686.60" x2="278.21" y2="687.70" stroke="#444" stroke-width="0.9" stroke-linecap="butt"/>
<line x1="281.38" y1="686.60" x2="281.38" y2="687.70" stroke="#444" stroke-width="0.9" stroke-linecap="butt"/>
<line x1="283.84" y1="686.60" x2="283.84" y2="687.70" stroke="#444" stroke-width="0.9" stroke-linecap="butt"/>
<line x1="285.85" y1="686.60" x2="285.85" y2="687.70" stroke="#444" stroke-width="0.9" stroke-linecap="butt"/>
<line x1="287.54" y1="686.60" x2="287.54" y2="687.70" stroke="#444" stroke-width="0.9" stroke-linecap="butt"/>
<line x1="289.02" y1="686.60" x2="289.02" y2="687.70" stroke="#444" stroke-width="0.9" stroke-linecap="butt"/>
<line x1="290.31" y1="686.60" x2="290.31" y2="687.70" stroke="#444" stroke-width="0.9" stroke-linecap="butt"/>
<line x1="291.48" y1="686.60" x2="291.48" y2="688.80" stroke="#444" stroke-width="0.9" stroke-linecap="butt"/>
<line x1="299.11" y1="686.60" x2="299.11" y2="687.70" stroke="#444" stroke-width="0.9" stroke-linecap="butt"/>
<line x1="303.58" y1="686.60" x2="303.58" y2="687.70" stroke="#444" stroke-width="0.9" stroke-linecap="butt"/>
<line x1="306.75" y1="686.60" x2="306.75" y2="687.70" stroke="#444" stroke-width="0.9" stroke-linecap="butt"/>
<line x1="309.21" y1="686.60" x2="309.21" y2="687.70" stroke="#444" stroke-width="0.9" stroke-linecap="butt"/>
<line x1="311.22" y1="686.60" x2="311.22" y2="687.70" stroke="#444" stroke-width="0.9" stroke-linecap="butt"/>
<line x1="312.92" y1="686.60" x2="312.92" y2="687.70" stroke="#444" stroke-width="0.9" stroke-linecap="butt"/>
<line x1="314.39" y1="686.60" x2="314.39" y2="687.70" stroke="#444" stroke-width="0.9" stroke-linecap="butt"/>
<line x1="315.69" y1="686.60" x2="315.69" y2="687.70" stroke="#444" stroke-width="0.9" stroke-linecap="butt"/>
<line x1="316.85" y1="686.60" x2="316.85" y2="688.80" stroke="#444" stroke-width="0.9" stroke-linecap="butt"/>
<line x1="324.49" y1="686.60" x2="324.49" y2="687.70" stroke="#444" stroke-width="0.9" stroke-linecap="butt"/>
<line x1="328.96" y1="686.60" x2="328.96" y2="687.70" stroke="#444" stroke-width="0.9" stroke-linecap="butt"/>
<line x1="332.13" y1="686.60" x2="332.13" y2="687.70" stroke="#444" stroke-width="0.9" stroke-linecap="butt"/>
<line x1="334.59" y1="686.60" x2="334.59" y2="687.70" stroke="#444" stroke-width="0.9" stroke-linecap="butt"/>
<line x1="336.60" y1="686.60" x2="336.60" y2="687.70" stroke="#444" stroke-width="0.9" stroke-linecap="butt"/>
<line x1="338.29" y1="686.60" x2="338.29" y2="687.70" stroke="#444" stroke-width="0.9" stroke-linecap="butt"/>
<line x1="339.77" y1="686.60" x2="339.77" y2="687.70" stroke="#444" stroke-width="0.9" stroke-linecap="butt"/>
<line x1="341.06" y1="686.60" x2="341.06" y2="687.70" stroke="#444" stroke-width="0.9" stroke-linecap="butt"/>
<line x1="342.23" y1="686.60" x2="342.23" y2="688.80" stroke="#444" stroke-width="0.9" stroke-linecap="butt"/>
<line x1="349.86" y1="686.60" x2="349.86" y2="687.70" stroke="#444" stroke-width="0.9" stroke-linecap="butt"/>
<line x1="354.33" y1="686.60" x2="354.33" y2="687.70" stroke="#444" stroke-width="0.9" stroke-linecap="butt"/>
<line x1="357.50" y1="686.60" x2="357.50" y2="687.70" stroke="#444" stroke-width="0.9" stroke-linecap="butt"/>
<line x1="359.96" y1="686.60" x2="359.96" y2="687.70" stroke="#444" stroke-width="0.9" stroke-linecap="butt"/>
<line x1="361.97" y1="686.60" x2="361.97" y2="687.70" stroke="#444" stroke-width="0.9" stroke-linecap="butt"/>
<line x1="363.67" y1="686.60" x2="363.67" y2="687.70" stroke="#444" stroke-width="0.9" stroke-linecap="butt"/>
<line x1="365.14" y1="686.60" x2="365.14" y2="687.70" stroke="#444" stroke-width="0.9" stroke-linecap="butt"/>
<line x1="366.44" y1="686.60" x2="366.44" y2="687.70" stroke="#444" stroke-width="0.9" stroke-linecap="butt"/>
<line x1="367.60" y1="686.60" x2="367.60" y2="688.80" stroke="#444" stroke-width="0.9" stroke-linecap="butt"/>
<text x="262.30" y="685.60" font-family="'Liberation Sans', sans-serif" font-size="5.1" text-anchor="middle" fill="#222" transform="rotate(-90 262.30 685.60)" stroke="#222" stroke-width="0.15">0</text>
<text x="262.30" y="672.14" font-family="'Liberation Sans', sans-serif" font-size="5.1" text-anchor="middle" fill="#222" transform="rotate(-90 262.30 672.14)" stroke="#222" stroke-width="0.15">60</text>
<text x="262.30" y="658.68" font-family="'Liberation Sans', sans-serif" font-size="5.1" text-anchor="middle" fill="#222" transform="rotate(-90 262.30 658.68)" stroke="#222" stroke-width="0.15">120</text>
<text x="262.30" y="645.22" font-family="'Liberation Sans', sans-serif" font-size="5.1" text-anchor="middle" fill="#222" transform="rotate(-90 262.30 645.22)" stroke="#222" stroke-width="0.15">180</text>
<text x="262.30" y="631.76" font-family="'Liberation Sans', sans-serif" font-size="5.1" text-anchor="middle" fill="#222" transform="rotate(-90 262.30 631.76)" stroke="#222" stroke-width="0.15">240</text>
<text x="262.30" y="618.30" font-family="'Liberation Sans', sans-serif" font-size="5.1" text-anchor="middle" fill="#222" transform="rotate(-90 262.30 618.30)" stroke="#222" stroke-width="0.15">300</text>
<text x="257.30" y="653.95" font-family="'Liberation Sans', sans-serif" font-size="5.1" text-anchor="middle" fill="#222" transform="rotate(-90 257.30 653.95)" stroke="#222" stroke-width="0.15">Counts</text>
<text x="268.10" y="694.30" font-family="'Liberation Sans', sans-serif" font-size="5.1" text-anchor="end" fill="#222">10</text>
<text x="268.30" y="691.90" font-family="'Liberation Sans', sans-serif" font-size="4.08" text-anchor="start" fill="#222">0</text>
<text x="293.48" y="694.30" font-family="'Liberation Sans', sans-serif" font-size="5.1" text-anchor="end" fill="#222">10</text>
<text x="293.68" y="691.90" font-family="'Liberation Sans', sans-serif" font-size="4.08" text-anchor="start" fill="#222">1</text>
<text x="318.85" y="694.30" font-family="'Liberation Sans', sans-serif" font-size="5.1" text-anchor="end" fill="#222">10</text>
<text x="319.05" y="691.90" font-family="'Liberation Sans', sans-serif" font-size="4.08" text-anchor="start" fill="#222">2</text>
<text x="344.23" y="694.30" font-family="'Liberation Sans', sans-serif" font-size="5.1" text-anchor="end" fill="#222">10</text>
<text x="344.43" y="691.90" font-family="'Liberation Sans', sans-serif" font-size="4.08" text-anchor="start" fill="#222">3</text>
<text x="369.60" y="694.30" font-family="'Liberation Sans', sans-serif" font-size="5.1" text-anchor="end" fill="#222">10</text>
<text x="369.80" y="691.90" font-family="'Liberation Sans', sans-serif" font-size="4.08" text-anchor="start" fill="#222">4</text>
<text x="316.85" y="700.80" font-family="'Liberation Sans', sans-serif" font-size="5.1" text-anchor="middle" fill="#222">FL1-Height</text>
<line x1="300.50" y1="669.70" x2="367.60" y2="669.70" stroke="#444" stroke-width="1.1" stroke-linecap="butt"/>
<line x1="300.50" y1="665.20" x2="300.50" y2="674.20" stroke="#333" stroke-width="1.2" stroke-linecap="butt"/>
<text x="335.73" y="675.10" font-family="'Liberation Sans', sans-serif" font-size="4.845" text-anchor="start" fill="#111" textLength="3.40" lengthAdjust="spacingAndGlyphs" stroke="#111" stroke-width="0.15">M</text>
<text x="342.50" y="675.10" font-family="'Liberation Sans', sans-serif" font-size="4.845" text-anchor="end" fill="#111" stroke="#111" stroke-width="0.15">1</text>
<text x="317.60" y="654.80" font-family="'Liberation Serif', serif" font-size="13.9" font-weight="bold" text-anchor="start" fill="#000" textLength="28.60" lengthAdjust="spacingAndGlyphs">45 %</text>
<clipPath id="c117_711"><rect x="117.70" y="711.90" width="104.30" height="72.20"/></clipPath>
<path d="M129.00,784.10 C129.70,783.92 132.13,784.15 133.20,783.00 C134.27,781.85 134.53,781.05 135.40,777.20 C136.27,773.35 137.62,765.67 138.40,759.90 C139.18,754.13 139.60,748.37 140.10,742.60 C140.60,736.83 140.85,730.40 141.40,725.30 C141.95,720.20 142.78,712.00 143.40,712.00 C144.02,712.00 144.63,720.20 145.10,725.30 C145.57,730.40 145.85,736.83 146.20,742.60 C146.55,748.37 146.70,754.13 147.20,759.90 C147.70,765.67 148.58,773.35 149.20,777.20 C149.82,781.05 150.27,781.85 150.90,783.00 C151.53,784.15 152.65,783.92 153.00,784.10" fill="none" stroke="#555" stroke-width="1.15" stroke-dasharray="1.8 1.8" clip-path="url(#c117_711)"/>
<path d="M140.00,784.10 C140.88,783.92 143.77,784.15 145.30,783.00 C146.83,781.85 147.97,781.05 149.20,777.20 C150.43,773.35 151.83,765.67 152.70,759.90 C153.57,754.13 153.93,747.25 154.40,742.60 C154.87,737.95 155.00,734.45 155.50,732.00 C156.00,729.55 156.85,727.90 157.40,727.90 C157.95,727.90 158.37,729.55 158.80,732.00 C159.23,734.45 159.58,737.95 160.00,742.60 C160.42,747.25 160.72,754.13 161.30,759.90 C161.88,765.67 162.57,773.27 163.50,777.20 C164.43,781.13 165.48,782.35 166.90,783.50 C168.32,784.65 171.15,784.00 172.00,784.10" fill="none" stroke="#333" stroke-width="1.2" clip-path="url(#c117_711)"/>
<line x1="117.70" y1="711.90" x2="222.00" y2="711.90" stroke="#666" stroke-width="1.2" stroke-linecap="butt"/>
<line x1="222.00" y1="711.90" x2="222.00" y2="784.10" stroke="#777" stroke-width="1.2" stroke-linecap="butt"/>
<line x1="117.70" y1="711.90" x2="117.70" y2="784.10" stroke="#666" stroke-width="1.0" stroke-linecap="butt"/>
<line x1="117.70" y1="784.10" x2="222.00" y2="784.10" stroke="#222" stroke-width="1.5" stroke-linecap="butt"/>
<line x1="116.40" y1="711.90" x2="117.90" y2="711.90" stroke="#111" stroke-width="1.4" stroke-linecap="butt"/>
<line x1="116.40" y1="714.79" x2="117.90" y2="714.79" stroke="#111" stroke-width="1.4" stroke-linecap="butt"/>
<line x1="116.40" y1="717.68" x2="117.90" y2="717.68" stroke="#111" stroke-width="1.4" stroke-linecap="butt"/>
<line x1="116.40" y1="720.56" x2="117.90" y2="720.56" stroke="#111" stroke-width="1.4" stroke-linecap="butt"/>
<line x1="116.40" y1="723.45" x2="117.90" y2="723.45" stroke="#111" stroke-width="1.4" stroke-linecap="butt"/>
<line x1="116.40" y1="726.34" x2="117.90" y2="726.34" stroke="#111" stroke-width="1.4" stroke-linecap="butt"/>
<line x1="116.40" y1="729.23" x2="117.90" y2="729.23" stroke="#111" stroke-width="1.4" stroke-linecap="butt"/>
<line x1="116.40" y1="732.12" x2="117.90" y2="732.12" stroke="#111" stroke-width="1.4" stroke-linecap="butt"/>
<line x1="116.40" y1="735.00" x2="117.90" y2="735.00" stroke="#111" stroke-width="1.4" stroke-linecap="butt"/>
<line x1="116.40" y1="737.89" x2="117.90" y2="737.89" stroke="#111" stroke-width="1.4" stroke-linecap="butt"/>
<line x1="116.40" y1="740.78" x2="117.90" y2="740.78" stroke="#111" stroke-width="1.4" stroke-linecap="butt"/>
<line x1="116.40" y1="743.67" x2="117.90" y2="743.67" stroke="#111" stroke-width="1.4" stroke-linecap="butt"/>
<line x1="116.40" y1="746.56" x2="117.90" y2="746.56" stroke="#111" stroke-width="1.4" stroke-linecap="butt"/>
<line x1="116.40" y1="749.44" x2="117.90" y2="749.44" stroke="#111" stroke-width="1.4" stroke-linecap="butt"/>
<line x1="116.40" y1="752.33" x2="117.90" y2="752.33" stroke="#111" stroke-width="1.4" stroke-linecap="butt"/>
<line x1="116.40" y1="755.22" x2="117.90" y2="755.22" stroke="#111" stroke-width="1.4" stroke-linecap="butt"/>
<line x1="116.40" y1="758.11" x2="117.90" y2="758.11" stroke="#111" stroke-width="1.4" stroke-linecap="butt"/>
<line x1="116.40" y1="761.00" x2="117.90" y2="761.00" stroke="#111" stroke-width="1.4" stroke-linecap="butt"/>
<line x1="116.40" y1="763.88" x2="117.90" y2="763.88" stroke="#111" stroke-width="1.4" stroke-linecap="butt"/>
<line x1="116.40" y1="766.77" x2="117.90" y2="766.77" stroke="#111" stroke-width="1.4" stroke-linecap="butt"/>
<line x1="116.40" y1="769.66" x2="117.90" y2="769.66" stroke="#111" stroke-width="1.4" stroke-linecap="butt"/>
<line x1="116.40" y1="772.55" x2="117.90" y2="772.55" stroke="#111" stroke-width="1.4" stroke-linecap="butt"/>
<line x1="116.40" y1="775.44" x2="117.90" y2="775.44" stroke="#111" stroke-width="1.4" stroke-linecap="butt"/>
<line x1="116.40" y1="778.32" x2="117.90" y2="778.32" stroke="#111" stroke-width="1.4" stroke-linecap="butt"/>
<line x1="116.40" y1="781.21" x2="117.90" y2="781.21" stroke="#111" stroke-width="1.4" stroke-linecap="butt"/>
<line x1="116.40" y1="784.10" x2="117.90" y2="784.10" stroke="#111" stroke-width="1.4" stroke-linecap="butt"/>
<line x1="114.70" y1="711.90" x2="117.70" y2="711.90" stroke="#222" stroke-width="1.1" stroke-linecap="butt"/>
<line x1="114.70" y1="726.34" x2="117.70" y2="726.34" stroke="#222" stroke-width="1.1" stroke-linecap="butt"/>
<line x1="114.70" y1="740.78" x2="117.70" y2="740.78" stroke="#222" stroke-width="1.1" stroke-linecap="butt"/>
<line x1="114.70" y1="755.22" x2="117.70" y2="755.22" stroke="#222" stroke-width="1.1" stroke-linecap="butt"/>
<line x1="114.70" y1="769.66" x2="117.70" y2="769.66" stroke="#222" stroke-width="1.1" stroke-linecap="butt"/>
<line x1="114.70" y1="784.10" x2="117.70" y2="784.10" stroke="#222" stroke-width="1.1" stroke-linecap="butt"/>
<line x1="117.70" y1="784.10" x2="117.70" y2="786.30" stroke="#444" stroke-width="0.9" stroke-linecap="butt"/>
<line x1="125.55" y1="784.10" x2="125.55" y2="785.20" stroke="#444" stroke-width="0.9" stroke-linecap="butt"/>
<line x1="130.14" y1="784.10" x2="130.14" y2="785.20" stroke="#444" stroke-width="0.9" stroke-linecap="butt"/>
<line x1="133.40" y1="784.10" x2="133.40" y2="785.20" stroke="#444" stroke-width="0.9" stroke-linecap="butt"/>
<line x1="135.93" y1="784.10" x2="135.93" y2="785.20" stroke="#444" stroke-width="0.9" stroke-linecap="butt"/>
<line x1="137.99" y1="784.10" x2="137.99" y2="785.20" stroke="#444" stroke-width="0.9" stroke-linecap="butt"/>
<line x1="139.74" y1="784.10" x2="139.74" y2="785.20" stroke="#444" stroke-width="0.9" stroke-linecap="butt"/>
<line x1="141.25" y1="784.10" x2="141.25" y2="785.20" stroke="#444" stroke-width="0.9" stroke-linecap="butt"/>
<line x1="142.58" y1="784.10" x2="142.58" y2="785.20" stroke="#444" stroke-width="0.9" stroke-linecap="butt"/>
<line x1="143.78" y1="784.10" x2="143.78" y2="786.30" stroke="#444" stroke-width="0.9" stroke-linecap="butt"/>
<line x1="151.62" y1="784.10" x2="151.62" y2="785.20" stroke="#444" stroke-width="0.9" stroke-linecap="butt"/>
<line x1="156.22" y1="784.10" x2="156.22" y2="785.20" stroke="#444" stroke-width="0.9" stroke-linecap="butt"/>
<line x1="159.47" y1="784.10" x2="159.47" y2="785.20" stroke="#444" stroke-width="0.9" stroke-linecap="butt"/>
<line x1="162.00" y1="784.10" x2="162.00" y2="785.20" stroke="#444" stroke-width="0.9" stroke-linecap="butt"/>
<line x1="164.07" y1="784.10" x2="164.07" y2="785.20" stroke="#444" stroke-width="0.9" stroke-linecap="butt"/>
<line x1="165.81" y1="784.10" x2="165.81" y2="785.20" stroke="#444" stroke-width="0.9" stroke-linecap="butt"/>
<line x1="167.32" y1="784.10" x2="167.32" y2="785.20" stroke="#444" stroke-width="0.9" stroke-linecap="butt"/>
<line x1="168.66" y1="784.10" x2="168.66" y2="785.20" stroke="#444" stroke-width="0.9" stroke-linecap="butt"/>
<line x1="169.85" y1="784.10" x2="169.85" y2="786.30" stroke="#444" stroke-width="0.9" stroke-linecap="butt"/>
<line x1="177.70" y1="784.10" x2="177.70" y2="785.20" stroke="#444" stroke-width="0.9" stroke-linecap="butt"/>
<line x1="182.29" y1="784.10" x2="182.29" y2="785.20" stroke="#444" stroke-width="0.9" stroke-linecap="butt"/>
<line x1="185.55" y1="784.10" x2="185.55" y2="785.20" stroke="#444" stroke-width="0.9" stroke-linecap="butt"/>
<line x1="188.08" y1="784.10" x2="188.08" y2="785.20" stroke="#444" stroke-width="0.9" stroke-linecap="butt"/>
<line x1="190.14" y1="784.10" x2="190.14" y2="785.20" stroke="#444" stroke-width="0.9" stroke-linecap="butt"/>
<line x1="191.89" y1="784.10" x2="191.89" y2="785.20" stroke="#444" stroke-width="0.9" stroke-linecap="butt"/>
<line x1="193.40" y1="784.10" x2="193.40" y2="785.20" stroke="#444" stroke-width="0.9" stroke-linecap="butt"/>
<line x1="194.73" y1="784.10" x2="194.73" y2="785.20" stroke="#444" stroke-width="0.9" stroke-linecap="butt"/>
<line x1="195.93" y1="784.10" x2="195.93" y2="786.30" stroke="#444" stroke-width="0.9" stroke-linecap="butt"/>
<line x1="203.77" y1="784.10" x2="203.77" y2="785.20" stroke="#444" stroke-width="0.9" stroke-linecap="butt"/>
<line x1="208.37" y1="784.10" x2="208.37" y2="785.20" stroke="#444" stroke-width="0.9" stroke-linecap="butt"/>
<line x1="211.62" y1="784.10" x2="211.62" y2="785.20" stroke="#444" stroke-width="0.9" stroke-linecap="butt"/>
<line x1="214.15" y1="784.10" x2="214.15" y2="785.20" stroke="#444" stroke-width="0.9" stroke-linecap="butt"/>
<line x1="216.22" y1="784.10" x2="216.22" y2="785.20" stroke="#444" stroke-width="0.9" stroke-linecap="butt"/>
<line x1="217.96" y1="784.10" x2="217.96" y2="785.20" stroke="#444" stroke-width="0.9" stroke-linecap="butt"/>
<line x1="219.47" y1="784.10" x2="219.47" y2="785.20" stroke="#444" stroke-width="0.9" stroke-linecap="butt"/>
<line x1="220.81" y1="784.10" x2="220.81" y2="785.20" stroke="#444" stroke-width="0.9" stroke-linecap="butt"/>
<line x1="222.00" y1="784.10" x2="222.00" y2="786.30" stroke="#444" stroke-width="0.9" stroke-linecap="butt"/>
<text x="113.90" y="783.10" font-family="'Liberation Sans', sans-serif" font-size="5.1" text-anchor="middle" fill="#222" transform="rotate(-90 113.90 783.10)" stroke="#222" stroke-width="0.15">0</text>
<text x="113.90" y="768.66" font-family="'Liberation Sans', sans-serif" font-size="5.1" text-anchor="middle" fill="#222" transform="rotate(-90 113.90 768.66)" stroke="#222" stroke-width="0.15">60</text>
<text x="113.90" y="754.22" font-family="'Liberation Sans', sans-serif" font-size="5.1" text-anchor="middle" fill="#222" transform="rotate(-90 113.90 754.22)" stroke="#222" stroke-width="0.15">120</text>
<text x="113.90" y="739.78" font-family="'Liberation Sans', sans-serif" font-size="5.1" text-anchor="middle" fill="#222" transform="rotate(-90 113.90 739.78)" stroke="#222" stroke-width="0.15">180</text>
<text x="113.90" y="725.34" font-family="'Liberation Sans', sans-serif" font-size="5.1" text-anchor="middle" fill="#222" transform="rotate(-90 113.90 725.34)" stroke="#222" stroke-width="0.15">240</text>
<text x="113.90" y="710.90" font-family="'Liberation Sans', sans-serif" font-size="5.1" text-anchor="middle" fill="#222" transform="rotate(-90 113.90 710.90)" stroke="#222" stroke-width="0.15">300</text>
<text x="108.90" y="749.00" font-family="'Liberation Sans', sans-serif" font-size="5.1" text-anchor="middle" fill="#222" transform="rotate(-90 108.90 749.00)" stroke="#222" stroke-width="0.15">Counts</text>
<text x="119.70" y="791.80" font-family="'Liberation Sans', sans-serif" font-size="5.1" text-anchor="end" fill="#222">10</text>
<text x="119.90" y="789.40" font-family="'Liberation Sans', sans-serif" font-size="4.08" text-anchor="start" fill="#222">0</text>
<text x="145.78" y="791.80" font-family="'Liberation Sans', sans-serif" font-size="5.1" text-anchor="end" fill="#222">10</text>
<text x="145.97" y="789.40" font-family="'Liberation Sans', sans-serif" font-size="4.08" text-anchor="start" fill="#222">1</text>
<text x="171.85" y="791.80" font-family="'Liberation Sans', sans-serif" font-size="5.1" text-anchor="end" fill="#222">10</text>
<text x="172.05" y="789.40" font-family="'Liberation Sans', sans-serif" font-size="4.08" text-anchor="start" fill="#222">2</text>
<text x="197.93" y="791.80" font-family="'Liberation Sans', sans-serif" font-size="5.1" text-anchor="end" fill="#222">10</text>
<text x="198.12" y="789.40" font-family="'Liberation Sans', sans-serif" font-size="4.08" text-anchor="start" fill="#222">3</text>
<text x="224.00" y="791.80" font-family="'Liberation Sans', sans-serif" font-size="5.1" text-anchor="end" fill="#222">10</text>
<text x="224.20" y="789.40" font-family="'Liberation Sans', sans-serif" font-size="4.08" text-anchor="start" fill="#222">4</text>
<text x="169.85" y="798.30" font-family="'Liberation Sans', sans-serif" font-size="5.1" text-anchor="middle" fill="#222">FL1-Height</text>
<line x1="154.00" y1="764.40" x2="222.00" y2="764.40" stroke="#444" stroke-width="1.1" stroke-linecap="butt"/>
<line x1="154.00" y1="759.90" x2="154.00" y2="768.90" stroke="#333" stroke-width="1.2" stroke-linecap="butt"/>
<text x="189.70" y="769.80" font-family="'Liberation Sans', sans-serif" font-size="4.845" text-anchor="start" fill="#111" textLength="3.40" lengthAdjust="spacingAndGlyphs" stroke="#111" stroke-width="0.15">M</text>
<text x="196.57" y="769.80" font-family="'Liberation Sans', sans-serif" font-size="4.845" text-anchor="end" fill="#111" stroke="#111" stroke-width="0.15">1</text>
<text x="172.60" y="749.80" font-family="'Liberation Serif', serif" font-size="13.9" font-weight="bold" text-anchor="start" fill="#000" textLength="28.60" lengthAdjust="spacingAndGlyphs">78 %</text>
<clipPath id="c264_716"><rect x="264.50" y="716.10" width="103.00" height="71.20"/></clipPath>
<path d="M278.00,787.30 C278.73,786.92 281.45,786.35 282.40,785.00 C283.35,783.65 283.07,783.05 283.70,779.20 C284.33,775.35 285.57,767.67 286.20,761.90 C286.83,756.13 287.07,750.37 287.50,744.60 C287.93,738.83 288.22,732.05 288.80,727.30 C289.38,722.55 290.35,716.10 291.00,716.10 C291.65,716.10 292.33,722.55 292.70,727.30 C293.07,732.05 292.90,738.83 293.20,744.60 C293.50,750.37 294.00,756.13 294.50,761.90 C295.00,767.67 295.63,775.35 296.20,779.20 C296.77,783.05 297.27,783.65 297.90,785.00 C298.53,786.35 299.65,786.92 300.00,787.30" fill="none" stroke="#555" stroke-width="1.15" stroke-dasharray="1.8 1.8" clip-path="url(#c264_716)"/>
<path d="M284.00,787.30 C284.88,787.00 287.70,786.85 289.30,785.50 C290.90,784.15 292.38,783.13 293.60,779.20 C294.82,775.27 295.67,767.67 296.60,761.90 C297.53,756.13 298.40,749.43 299.20,744.60 C300.00,739.77 300.70,732.90 301.40,732.90 C302.10,732.90 302.83,739.77 303.40,744.60 C303.97,749.43 304.13,756.13 304.80,761.90 C305.47,767.67 306.32,775.18 307.40,779.20 C308.48,783.22 309.87,784.65 311.30,786.00 C312.73,787.35 315.22,787.08 316.00,787.30" fill="none" stroke="#333" stroke-width="1.2" clip-path="url(#c264_716)"/>
<line x1="264.50" y1="716.10" x2="367.50" y2="716.10" stroke="#666" stroke-width="1.2" stroke-linecap="butt"/>
<line x1="367.50" y1="716.10" x2="367.50" y2="787.30" stroke="#777" stroke-width="1.2" stroke-linecap="butt"/>
<line x1="264.50" y1="716.10" x2="264.50" y2="787.30" stroke="#666" stroke-width="1.0" stroke-linecap="butt"/>
<line x1="264.50" y1="787.30" x2="367.50" y2="787.30" stroke="#222" stroke-width="1.5" stroke-linecap="butt"/>
<line x1="263.20" y1="716.10" x2="264.70" y2="716.10" stroke="#111" stroke-width="1.4" stroke-linecap="butt"/>
<line x1="263.20" y1="718.95" x2="264.70" y2="718.95" stroke="#111" stroke-width="1.4" stroke-linecap="butt"/>
<line x1="263.20" y1="721.80" x2="264.70" y2="721.80" stroke="#111" stroke-width="1.4" stroke-linecap="butt"/>
<line x1="263.20" y1="724.64" x2="264.70" y2="724.64" stroke="#111" stroke-width="1.4" stroke-linecap="butt"/>
<line x1="263.20" y1="727.49" x2="264.70" y2="727.49" stroke="#111" stroke-width="1.4" stroke-linecap="butt"/>
<line x1="263.20" y1="730.34" x2="264.70" y2="730.34" stroke="#111" stroke-width="1.4" stroke-linecap="butt"/>
<line x1="263.20" y1="733.19" x2="264.70" y2="733.19" stroke="#111" stroke-width="1.4" stroke-linecap="butt"/>
<line x1="263.20" y1="736.04" x2="264.70" y2="736.04" stroke="#111" stroke-width="1.4" stroke-linecap="butt"/>
<line x1="263.20" y1="738.88" x2="264.70" y2="738.88" stroke="#111" stroke-width="1.4" stroke-linecap="butt"/>
<line x1="263.20" y1="741.73" x2="264.70" y2="741.73" stroke="#111" stroke-width="1.4" stroke-linecap="butt"/>
<line x1="263.20" y1="744.58" x2="264.70" y2="744.58" stroke="#111" stroke-width="1.4" stroke-linecap="butt"/>
<line x1="263.20" y1="747.43" x2="264.70" y2="747.43" stroke="#111" stroke-width="1.4" stroke-linecap="butt"/>
<line x1="263.20" y1="750.28" x2="264.70" y2="750.28" stroke="#111" stroke-width="1.4" stroke-linecap="butt"/>
<line x1="263.20" y1="753.12" x2="264.70" y2="753.12" stroke="#111" stroke-width="1.4" stroke-linecap="butt"/>
<line x1="263.20" y1="755.97" x2="264.70" y2="755.97" stroke="#111" stroke-width="1.4" stroke-linecap="butt"/>
<line x1="263.20" y1="758.82" x2="264.70" y2="758.82" stroke="#111" stroke-width="1.4" stroke-linecap="butt"/>
<line x1="263.20" y1="761.67" x2="264.70" y2="761.67" stroke="#111" stroke-width="1.4" stroke-linecap="butt"/>
<line x1="263.20" y1="764.52" x2="264.70" y2="764.52" stroke="#111" stroke-width="1.4" stroke-linecap="butt"/>
<line x1="263.20" y1="767.36" x2="264.70" y2="767.36" stroke="#111" stroke-width="1.4" stroke-linecap="butt"/>
<line x1="263.20" y1="770.21" x2="264.70" y2="770.21" stroke="#111" stroke-width="1.4" stroke-linecap="butt"/>
<line x1="263.20" y1="773.06" x2="264.70" y2="773.06" stroke="#111" stroke-width="1.4" stroke-linecap="butt"/>
<line x1="263.20" y1="775.91" x2="264.70" y2="775.91" stroke="#111" stroke-width="1.4" stroke-linecap="butt"/>
<line x1="263.20" y1="778.76" x2="264.70" y2="778.76" stroke="#111" stroke-width="1.4" stroke-linecap="butt"/>
<line x1="263.20" y1="781.60" x2="264.70" y2="781.60" stroke="#111" stroke-width="1.4" stroke-linecap="butt"/>
<line x1="263.20" y1="784.45" x2="264.70" y2="784.45" stroke="#111" stroke-width="1.4" stroke-linecap="butt"/>
<line x1="263.20" y1="787.30" x2="264.70" y2="787.30" stroke="#111" stroke-width="1.4" stroke-linecap="butt"/>
<line x1="261.50" y1="716.10" x2="264.50" y2="716.10" stroke="#222" stroke-width="1.1" stroke-linecap="butt"/>
<line x1="261.50" y1="730.34" x2="264.50" y2="730.34" stroke="#222" stroke-width="1.1" stroke-linecap="butt"/>
<line x1="261.50" y1="744.58" x2="264.50" y2="744.58" stroke="#222" stroke-width="1.1" stroke-linecap="butt"/>
<line x1="261.50" y1="758.82" x2="264.50" y2="758.82" stroke="#222" stroke-width="1.1" stroke-linecap="butt"/>
<line x1="261.50" y1="773.06" x2="264.50" y2="773.06" stroke="#222" stroke-width="1.1" stroke-linecap="butt"/>
<line x1="261.50" y1="787.30" x2="264.50" y2="787.30" stroke="#222" stroke-width="1.1" stroke-linecap="butt"/>
<line x1="264.50" y1="787.30" x2="264.50" y2="789.50" stroke="#444" stroke-width="0.9" stroke-linecap="butt"/>
<line x1="272.25" y1="787.30" x2="272.25" y2="788.40" stroke="#444" stroke-width="0.9" stroke-linecap="butt"/>
<line x1="276.79" y1="787.30" x2="276.79" y2="788.40" stroke="#444" stroke-width="0.9" stroke-linecap="butt"/>
<line x1="280.00" y1="787.30" x2="280.00" y2="788.40" stroke="#444" stroke-width="0.9" stroke-linecap="butt"/>
<line x1="282.50" y1="787.30" x2="282.50" y2="788.40" stroke="#444" stroke-width="0.9" stroke-linecap="butt"/>
<line x1="284.54" y1="787.30" x2="284.54" y2="788.40" stroke="#444" stroke-width="0.9" stroke-linecap="butt"/>
<line x1="286.26" y1="787.30" x2="286.26" y2="788.40" stroke="#444" stroke-width="0.9" stroke-linecap="butt"/>
<line x1="287.75" y1="787.30" x2="287.75" y2="788.40" stroke="#444" stroke-width="0.9" stroke-linecap="butt"/>
<line x1="289.07" y1="787.30" x2="289.07" y2="788.40" stroke="#444" stroke-width="0.9" stroke-linecap="butt"/>
<line x1="290.25" y1="787.30" x2="290.25" y2="789.50" stroke="#444" stroke-width="0.9" stroke-linecap="butt"/>
<line x1="298.00" y1="787.30" x2="298.00" y2="788.40" stroke="#444" stroke-width="0.9" stroke-linecap="butt"/>
<line x1="302.54" y1="787.30" x2="302.54" y2="788.40" stroke="#444" stroke-width="0.9" stroke-linecap="butt"/>
<line x1="305.75" y1="787.30" x2="305.75" y2="788.40" stroke="#444" stroke-width="0.9" stroke-linecap="butt"/>
<line x1="308.25" y1="787.30" x2="308.25" y2="788.40" stroke="#444" stroke-width="0.9" stroke-linecap="butt"/>
<line x1="310.29" y1="787.30" x2="310.29" y2="788.40" stroke="#444" stroke-width="0.9" stroke-linecap="butt"/>
<line x1="312.01" y1="787.30" x2="312.01" y2="788.40" stroke="#444" stroke-width="0.9" stroke-linecap="butt"/>
<line x1="313.50" y1="787.30" x2="313.50" y2="788.40" stroke="#444" stroke-width="0.9" stroke-linecap="butt"/>
<line x1="314.82" y1="787.30" x2="314.82" y2="788.40" stroke="#444" stroke-width="0.9" stroke-linecap="butt"/>
<line x1="316.00" y1="787.30" x2="316.00" y2="789.50" stroke="#444" stroke-width="0.9" stroke-linecap="butt"/>
<line x1="323.75" y1="787.30" x2="323.75" y2="788.40" stroke="#444" stroke-width="0.9" stroke-linecap="butt"/>
<line x1="328.29" y1="787.30" x2="328.29" y2="788.40" stroke="#444" stroke-width="0.9" stroke-linecap="butt"/>
<line x1="331.50" y1="787.30" x2="331.50" y2="788.40" stroke="#444" stroke-width="0.9" stroke-linecap="butt"/>
<line x1="334.00" y1="787.30" x2="334.00" y2="788.40" stroke="#444" stroke-width="0.9" stroke-linecap="butt"/>
<line x1="336.04" y1="787.30" x2="336.04" y2="788.40" stroke="#444" stroke-width="0.9" stroke-linecap="butt"/>
<line x1="337.76" y1="787.30" x2="337.76" y2="788.40" stroke="#444" stroke-width="0.9" stroke-linecap="butt"/>
<line x1="339.25" y1="787.30" x2="339.25" y2="788.40" stroke="#444" stroke-width="0.9" stroke-linecap="butt"/>
<line x1="340.57" y1="787.30" x2="340.57" y2="788.40" stroke="#444" stroke-width="0.9" stroke-linecap="butt"/>
<line x1="341.75" y1="787.30" x2="341.75" y2="789.50" stroke="#444" stroke-width="0.9" stroke-linecap="butt"/>
<line x1="349.50" y1="787.30" x2="349.50" y2="788.40" stroke="#444" stroke-width="0.9" stroke-linecap="butt"/>
<line x1="354.04" y1="787.30" x2="354.04" y2="788.40" stroke="#444" stroke-width="0.9" stroke-linecap="butt"/>
<line x1="357.25" y1="787.30" x2="357.25" y2="788.40" stroke="#444" stroke-width="0.9" stroke-linecap="butt"/>
<line x1="359.75" y1="787.30" x2="359.75" y2="788.40" stroke="#444" stroke-width="0.9" stroke-linecap="butt"/>
<line x1="361.79" y1="787.30" x2="361.79" y2="788.40" stroke="#444" stroke-width="0.9" stroke-linecap="butt"/>
<line x1="363.51" y1="787.30" x2="363.51" y2="788.40" stroke="#444" stroke-width="0.9" stroke-linecap="butt"/>
<line x1="365.00" y1="787.30" x2="365.00" y2="788.40" stroke="#444" stroke-width="0.9" stroke-linecap="butt"/>
<line x1="366.32" y1="787.30" x2="366.32" y2="788.40" stroke="#444" stroke-width="0.9" stroke-linecap="butt"/>
<line x1="367.50" y1="787.30" x2="367.50" y2="789.50" stroke="#444" stroke-width="0.9" stroke-linecap="butt"/>
<text x="260.70" y="786.30" font-family="'Liberation Sans', sans-serif" font-size="5.1" text-anchor="middle" fill="#222" transform="rotate(-90 260.70 786.30)" stroke="#222" stroke-width="0.15">0</text>
<text x="260.70" y="772.06" font-family="'Liberation Sans', sans-serif" font-size="5.1" text-anchor="middle" fill="#222" transform="rotate(-90 260.70 772.06)" stroke="#222" stroke-width="0.15">60</text>
<text x="260.70" y="757.82" font-family="'Liberation Sans', sans-serif" font-size="5.1" text-anchor="middle" fill="#222" transform="rotate(-90 260.70 757.82)" stroke="#222" stroke-width="0.15">120</text>
<text x="260.70" y="743.58" font-family="'Liberation Sans', sans-serif" font-size="5.1" text-anchor="middle" fill="#222" transform="rotate(-90 260.70 743.58)" stroke="#222" stroke-width="0.15">180</text>
<text x="260.70" y="729.34" font-family="'Liberation Sans', sans-serif" font-size="5.1" text-anchor="middle" fill="#222" transform="rotate(-90 260.70 729.34)" stroke="#222" stroke-width="0.15">240</text>
<text x="260.70" y="715.10" font-family="'Liberation Sans', sans-serif" font-size="5.1" text-anchor="middle" fill="#222" transform="rotate(-90 260.70 715.10)" stroke="#222" stroke-width="0.15">300</text>
<text x="255.70" y="752.70" font-family="'Liberation Sans', sans-serif" font-size="5.1" text-anchor="middle" fill="#222" transform="rotate(-90 255.70 752.70)" stroke="#222" stroke-width="0.15">Counts</text>
<text x="266.50" y="795.00" font-family="'Liberation Sans', sans-serif" font-size="5.1" text-anchor="end" fill="#222">10</text>
<text x="266.70" y="792.60" font-family="'Liberation Sans', sans-serif" font-size="4.08" text-anchor="start" fill="#222">0</text>
<text x="292.25" y="795.00" font-family="'Liberation Sans', sans-serif" font-size="5.1" text-anchor="end" fill="#222">10</text>
<text x="292.45" y="792.60" font-family="'Liberation Sans', sans-serif" font-size="4.08" text-anchor="start" fill="#222">1</text>
<text x="318.00" y="795.00" font-family="'Liberation Sans', sans-serif" font-size="5.1" text-anchor="end" fill="#222">10</text>
<text x="318.20" y="792.60" font-family="'Liberation Sans', sans-serif" font-size="4.08" text-anchor="start" fill="#222">2</text>
<text x="343.75" y="795.00" font-family="'Liberation Sans', sans-serif" font-size="5.1" text-anchor="end" fill="#222">10</text>
<text x="343.95" y="792.60" font-family="'Liberation Sans', sans-serif" font-size="4.08" text-anchor="start" fill="#222">3</text>
<text x="369.50" y="795.00" font-family="'Liberation Sans', sans-serif" font-size="5.1" text-anchor="end" fill="#222">10</text>
<text x="369.70" y="792.60" font-family="'Liberation Sans', sans-serif" font-size="4.08" text-anchor="start" fill="#222">4</text>
<text x="316.00" y="801.50" font-family="'Liberation Sans', sans-serif" font-size="5.1" text-anchor="middle" fill="#222">FL1-Height</text>
<line x1="301.40" y1="767.30" x2="367.50" y2="767.30" stroke="#444" stroke-width="1.1" stroke-linecap="butt"/>
<line x1="301.40" y1="762.80" x2="301.40" y2="771.80" stroke="#333" stroke-width="1.2" stroke-linecap="butt"/>
<text x="336.10" y="772.70" font-family="'Liberation Sans', sans-serif" font-size="4.845" text-anchor="start" fill="#111" textLength="3.40" lengthAdjust="spacingAndGlyphs" stroke="#111" stroke-width="0.15">M</text>
<text x="342.78" y="772.70" font-family="'Liberation Sans', sans-serif" font-size="4.845" text-anchor="end" fill="#111" stroke="#111" stroke-width="0.15">1</text>
<text x="317.60" y="749.40" font-family="'Liberation Serif', serif" font-size="13.9" font-weight="bold" text-anchor="start" fill="#000" textLength="28.60" lengthAdjust="spacingAndGlyphs">47 %</text>
<clipPath id="c118_818"><rect x="118.30" y="818.10" width="105.00" height="68.50"/></clipPath>
<path d="M132.00,886.60 C132.70,886.17 135.22,885.18 136.20,884.00 C137.18,882.82 137.25,882.85 137.90,879.50 C138.55,876.15 139.52,869.38 140.10,863.90 C140.68,858.42 141.03,852.37 141.40,846.60 C141.77,840.83 141.80,834.05 142.30,829.30 C142.80,824.55 143.78,818.10 144.40,818.10 C145.02,818.10 145.63,824.55 146.00,829.30 C146.37,834.05 146.22,840.83 146.60,846.60 C146.98,852.37 147.80,858.42 148.30,863.90 C148.80,869.38 149.20,876.15 149.60,879.50 C150.00,882.85 150.13,882.82 150.70,884.00 C151.27,885.18 152.62,886.17 153.00,886.60" fill="none" stroke="#555" stroke-width="1.15" stroke-dasharray="1.8 1.8" clip-path="url(#c118_818)"/>
<path d="M139.00,886.60 C139.77,886.33 142.27,886.18 143.60,885.00 C144.93,883.82 145.92,883.02 147.00,879.50 C148.08,875.98 149.30,869.38 150.10,863.90 C150.90,858.42 151.30,850.63 151.80,846.60 C152.30,842.57 152.60,843.02 153.10,839.70 C153.60,836.38 154.23,827.28 154.80,826.70 C155.37,826.12 155.92,832.88 156.50,836.20 C157.08,839.52 157.65,841.98 158.30,846.60 C158.95,851.22 159.75,858.42 160.40,863.90 C161.05,869.38 161.62,875.90 162.20,879.50 C162.78,883.10 162.93,884.32 163.90,885.50 C164.87,886.68 167.32,886.42 168.00,886.60" fill="none" stroke="#333" stroke-width="1.2" clip-path="url(#c118_818)"/>
<line x1="118.30" y1="818.10" x2="223.30" y2="818.10" stroke="#666" stroke-width="1.2" stroke-linecap="butt"/>
<line x1="223.30" y1="818.10" x2="223.30" y2="886.60" stroke="#777" stroke-width="1.2" stroke-linecap="butt"/>
<line x1="118.30" y1="818.10" x2="118.30" y2="886.60" stroke="#666" stroke-width="1.0" stroke-linecap="butt"/>
<line x1="118.30" y1="886.60" x2="223.30" y2="886.60" stroke="#222" stroke-width="1.5" stroke-linecap="butt"/>
<line x1="117.00" y1="818.10" x2="118.50" y2="818.10" stroke="#111" stroke-width="1.4" stroke-linecap="butt"/>
<line x1="117.00" y1="820.84" x2="118.50" y2="820.84" stroke="#111" stroke-width="1.4" stroke-linecap="butt"/>
<line x1="117.00" y1="823.58" x2="118.50" y2="823.58" stroke="#111" stroke-width="1.4" stroke-linecap="butt"/>
<line x1="117.00" y1="826.32" x2="118.50" y2="826.32" stroke="#111" stroke-width="1.4" stroke-linecap="butt"/>
<line x1="117.00" y1="829.06" x2="118.50" y2="829.06" stroke="#111" stroke-width="1.4" stroke-linecap="butt"/>
<line x1="117.00" y1="831.80" x2="118.50" y2="831.80" stroke="#111" stroke-width="1.4" stroke-linecap="butt"/>
<line x1="117.00" y1="834.54" x2="118.50" y2="834.54" stroke="#111" stroke-width="1.4" stroke-linecap="butt"/>
<line x1="117.00" y1="837.28" x2="118.50" y2="837.28" stroke="#111" stroke-width="1.4" stroke-linecap="butt"/>
<line x1="117.00" y1="840.02" x2="118.50" y2="840.02" stroke="#111" stroke-width="1.4" stroke-linecap="butt"/>
<line x1="117.00" y1="842.76" x2="118.50" y2="842.76" stroke="#111" stroke-width="1.4" stroke-linecap="butt"/>
<line x1="117.00" y1="845.50" x2="118.50" y2="845.50" stroke="#111" stroke-width="1.4" stroke-linecap="butt"/>
<line x1="117.00" y1="848.24" x2="118.50" y2="848.24" stroke="#111" stroke-width="1.4" stroke-linecap="butt"/>
<line x1="117.00" y1="850.98" x2="118.50" y2="850.98" stroke="#111" stroke-width="1.4" stroke-linecap="butt"/>
<line x1="117.00" y1="853.72" x2="118.50" y2="853.72" stroke="#111" stroke-width="1.4" stroke-linecap="butt"/>
<line x1="117.00" y1="856.46" x2="118.50" y2="856.46" stroke="#111" stroke-width="1.4" stroke-linecap="butt"/>
<line x1="117.00" y1="859.20" x2="118.50" y2="859.20" stroke="#111" stroke-width="1.4" stroke-linecap="butt"/>
<line x1="117.00" y1="861.94" x2="118.50" y2="861.94" stroke="#111" stroke-width="1.4" stroke-linecap="butt"/>
<line x1="117.00" y1="864.68" x2="118.50" y2="864.68" stroke="#111" stroke-width="1.4" stroke-linecap="butt"/>
<line x1="117.00" y1="867.42" x2="118.50" y2="867.42" stroke="#111" stroke-width="1.4" stroke-linecap="butt"/>
<line x1="117.00" y1="870.16" x2="118.50" y2="870.16" stroke="#111" stroke-width="1.4" stroke-linecap="butt"/>
<line x1="117.00" y1="872.90" x2="118.50" y2="872.90" stroke="#111" stroke-width="1.4" stroke-linecap="butt"/>
<line x1="117.00" y1="875.64" x2="118.50" y2="875.64" stroke="#111" stroke-width="1.4" stroke-linecap="butt"/>
<line x1="117.00" y1="878.38" x2="118.50" y2="878.38" stroke="#111" stroke-width="1.4" stroke-linecap="butt"/>
<line x1="117.00" y1="881.12" x2="118.50" y2="881.12" stroke="#111" stroke-width="1.4" stroke-linecap="butt"/>
<line x1="117.00" y1="883.86" x2="118.50" y2="883.86" stroke="#111" stroke-width="1.4" stroke-linecap="butt"/>
<line x1="117.00" y1="886.60" x2="118.50" y2="886.60" stroke="#111" stroke-width="1.4" stroke-linecap="butt"/>
<line x1="115.30" y1="818.10" x2="118.30" y2="818.10" stroke="#222" stroke-width="1.1" stroke-linecap="butt"/>
<line x1="115.30" y1="831.80" x2="118.30" y2="831.80" stroke="#222" stroke-width="1.1" stroke-linecap="butt"/>
<line x1="115.30" y1="845.50" x2="118.30" y2="845.50" stroke="#222" stroke-width="1.1" stroke-linecap="butt"/>
<line x1="115.30" y1="859.20" x2="118.30" y2="859.20" stroke="#222" stroke-width="1.1" stroke-linecap="butt"/>
<line x1="115.30" y1="872.90" x2="118.30" y2="872.90" stroke="#222" stroke-width="1.1" stroke-linecap="butt"/>
<line x1="115.30" y1="886.60" x2="118.30" y2="886.60" stroke="#222" stroke-width="1.1" stroke-linecap="butt"/>
<line x1="118.30" y1="886.60" x2="118.30" y2="888.80" stroke="#444" stroke-width="0.9" stroke-linecap="butt"/>
<line x1="126.20" y1="886.60" x2="126.20" y2="887.70" stroke="#444" stroke-width="0.9" stroke-linecap="butt"/>
<line x1="130.82" y1="886.60" x2="130.82" y2="887.70" stroke="#444" stroke-width="0.9" stroke-linecap="butt"/>
<line x1="134.10" y1="886.60" x2="134.10" y2="887.70" stroke="#444" stroke-width="0.9" stroke-linecap="butt"/>
<line x1="136.65" y1="886.60" x2="136.65" y2="887.70" stroke="#444" stroke-width="0.9" stroke-linecap="butt"/>
<line x1="138.73" y1="886.60" x2="138.73" y2="887.70" stroke="#444" stroke-width="0.9" stroke-linecap="butt"/>
<line x1="140.48" y1="886.60" x2="140.48" y2="887.70" stroke="#444" stroke-width="0.9" stroke-linecap="butt"/>
<line x1="142.01" y1="886.60" x2="142.01" y2="887.70" stroke="#444" stroke-width="0.9" stroke-linecap="butt"/>
<line x1="143.35" y1="886.60" x2="143.35" y2="887.70" stroke="#444" stroke-width="0.9" stroke-linecap="butt"/>
<line x1="144.55" y1="886.60" x2="144.55" y2="888.80" stroke="#444" stroke-width="0.9" stroke-linecap="butt"/>
<line x1="152.45" y1="886.60" x2="152.45" y2="887.70" stroke="#444" stroke-width="0.9" stroke-linecap="butt"/>
<line x1="157.07" y1="886.60" x2="157.07" y2="887.70" stroke="#444" stroke-width="0.9" stroke-linecap="butt"/>
<line x1="160.35" y1="886.60" x2="160.35" y2="887.70" stroke="#444" stroke-width="0.9" stroke-linecap="butt"/>
<line x1="162.90" y1="886.60" x2="162.90" y2="887.70" stroke="#444" stroke-width="0.9" stroke-linecap="butt"/>
<line x1="164.98" y1="886.60" x2="164.98" y2="887.70" stroke="#444" stroke-width="0.9" stroke-linecap="butt"/>
<line x1="166.73" y1="886.60" x2="166.73" y2="887.70" stroke="#444" stroke-width="0.9" stroke-linecap="butt"/>
<line x1="168.26" y1="886.60" x2="168.26" y2="887.70" stroke="#444" stroke-width="0.9" stroke-linecap="butt"/>
<line x1="169.60" y1="886.60" x2="169.60" y2="887.70" stroke="#444" stroke-width="0.9" stroke-linecap="butt"/>
<line x1="170.80" y1="886.60" x2="170.80" y2="888.80" stroke="#444" stroke-width="0.9" stroke-linecap="butt"/>
<line x1="178.70" y1="886.60" x2="178.70" y2="887.70" stroke="#444" stroke-width="0.9" stroke-linecap="butt"/>
<line x1="183.32" y1="886.60" x2="183.32" y2="887.70" stroke="#444" stroke-width="0.9" stroke-linecap="butt"/>
<line x1="186.60" y1="886.60" x2="186.60" y2="887.70" stroke="#444" stroke-width="0.9" stroke-linecap="butt"/>
<line x1="189.15" y1="886.60" x2="189.15" y2="887.70" stroke="#444" stroke-width="0.9" stroke-linecap="butt"/>
<line x1="191.23" y1="886.60" x2="191.23" y2="887.70" stroke="#444" stroke-width="0.9" stroke-linecap="butt"/>
<line x1="192.98" y1="886.60" x2="192.98" y2="887.70" stroke="#444" stroke-width="0.9" stroke-linecap="butt"/>
<line x1="194.51" y1="886.60" x2="194.51" y2="887.70" stroke="#444" stroke-width="0.9" stroke-linecap="butt"/>
<line x1="195.85" y1="886.60" x2="195.85" y2="887.70" stroke="#444" stroke-width="0.9" stroke-linecap="butt"/>
<line x1="197.05" y1="886.60" x2="197.05" y2="888.80" stroke="#444" stroke-width="0.9" stroke-linecap="butt"/>
<line x1="204.95" y1="886.60" x2="204.95" y2="887.70" stroke="#444" stroke-width="0.9" stroke-linecap="butt"/>
<line x1="209.57" y1="886.60" x2="209.57" y2="887.70" stroke="#444" stroke-width="0.9" stroke-linecap="butt"/>
<line x1="212.85" y1="886.60" x2="212.85" y2="887.70" stroke="#444" stroke-width="0.9" stroke-linecap="butt"/>
<line x1="215.40" y1="886.60" x2="215.40" y2="887.70" stroke="#444" stroke-width="0.9" stroke-linecap="butt"/>
<line x1="217.48" y1="886.60" x2="217.48" y2="887.70" stroke="#444" stroke-width="0.9" stroke-linecap="butt"/>
<line x1="219.23" y1="886.60" x2="219.23" y2="887.70" stroke="#444" stroke-width="0.9" stroke-linecap="butt"/>
<line x1="220.76" y1="886.60" x2="220.76" y2="887.70" stroke="#444" stroke-width="0.9" stroke-linecap="butt"/>
<line x1="222.10" y1="886.60" x2="222.10" y2="887.70" stroke="#444" stroke-width="0.9" stroke-linecap="butt"/>
<line x1="223.30" y1="886.60" x2="223.30" y2="888.80" stroke="#444" stroke-width="0.9" stroke-linecap="butt"/>
<text x="114.50" y="885.60" font-family="'Liberation Sans', sans-serif" font-size="5.1" text-anchor="middle" fill="#222" transform="rotate(-90 114.50 885.60)" stroke="#222" stroke-width="0.15">0</text>
<text x="114.50" y="871.90" font-family="'Liberation Sans', sans-serif" font-size="5.1" text-anchor="middle" fill="#222" transform="rotate(-90 114.50 871.90)" stroke="#222" stroke-width="0.15">60</text>
<text x="114.50" y="858.20" font-family="'Liberation Sans', sans-serif" font-size="5.1" text-anchor="middle" fill="#222" transform="rotate(-90 114.50 858.20)" stroke="#222" stroke-width="0.15">120</text>
<text x="114.50" y="844.50" font-family="'Liberation Sans', sans-serif" font-size="5.1" text-anchor="middle" fill="#222" transform="rotate(-90 114.50 844.50)" stroke="#222" stroke-width="0.15">180</text>
<text x="114.50" y="830.80" font-family="'Liberation Sans', sans-serif" font-size="5.1" text-anchor="middle" fill="#222" transform="rotate(-90 114.50 830.80)" stroke="#222" stroke-width="0.15">240</text>
<text x="114.50" y="817.10" font-family="'Liberation Sans', sans-serif" font-size="5.1" text-anchor="middle" fill="#222" transform="rotate(-90 114.50 817.10)" stroke="#222" stroke-width="0.15">300</text>
<text x="109.50" y="853.35" font-family="'Liberation Sans', sans-serif" font-size="5.1" text-anchor="middle" fill="#222" transform="rotate(-90 109.50 853.35)" stroke="#222" stroke-width="0.15">Counts</text>
<text x="120.30" y="894.30" font-family="'Liberation Sans', sans-serif" font-size="5.1" text-anchor="end" fill="#222">10</text>
<text x="120.50" y="891.90" font-family="'Liberation Sans', sans-serif" font-size="4.08" text-anchor="start" fill="#222">0</text>
<text x="146.55" y="894.30" font-family="'Liberation Sans', sans-serif" font-size="5.1" text-anchor="end" fill="#222">10</text>
<text x="146.75" y="891.90" font-family="'Liberation Sans', sans-serif" font-size="4.08" text-anchor="start" fill="#222">1</text>
<text x="172.80" y="894.30" font-family="'Liberation Sans', sans-serif" font-size="5.1" text-anchor="end" fill="#222">10</text>
<text x="173.00" y="891.90" font-family="'Liberation Sans', sans-serif" font-size="4.08" text-anchor="start" fill="#222">2</text>
<text x="199.05" y="894.30" font-family="'Liberation Sans', sans-serif" font-size="5.1" text-anchor="end" fill="#222">10</text>
<text x="199.25" y="891.90" font-family="'Liberation Sans', sans-serif" font-size="4.08" text-anchor="start" fill="#222">3</text>
<text x="225.30" y="894.30" font-family="'Liberation Sans', sans-serif" font-size="5.1" text-anchor="end" fill="#222">10</text>
<text x="225.50" y="891.90" font-family="'Liberation Sans', sans-serif" font-size="4.08" text-anchor="start" fill="#222">4</text>
<text x="170.80" y="900.80" font-family="'Liberation Sans', sans-serif" font-size="5.1" text-anchor="middle" fill="#222">FL1-Height</text>
<line x1="153.50" y1="869.10" x2="223.30" y2="869.10" stroke="#444" stroke-width="1.1" stroke-linecap="butt"/>
<line x1="153.50" y1="864.60" x2="153.50" y2="873.60" stroke="#333" stroke-width="1.2" stroke-linecap="butt"/>
<text x="190.15" y="874.50" font-family="'Liberation Sans', sans-serif" font-size="4.845" text-anchor="start" fill="#111" textLength="3.40" lengthAdjust="spacingAndGlyphs" stroke="#111" stroke-width="0.15">M</text>
<text x="197.19" y="874.50" font-family="'Liberation Sans', sans-serif" font-size="4.845" text-anchor="end" fill="#111" stroke="#111" stroke-width="0.15">1</text>
<text x="172.60" y="854.60" font-family="'Liberation Serif', serif" font-size="13.9" font-weight="bold" text-anchor="start" fill="#000" textLength="28.60" lengthAdjust="spacingAndGlyphs">71 %</text>
<clipPath id="c265_818"><rect x="265.50" y="818.30" width="102.50" height="69.50"/></clipPath>
<path d="M279.00,887.80 C279.78,887.33 282.70,886.38 283.70,885.00 C284.70,883.62 284.50,883.02 285.00,879.50 C285.50,875.98 286.20,869.38 286.70,863.90 C287.20,858.42 287.62,852.37 288.00,846.60 C288.38,840.83 288.50,834.02 289.00,829.30 C289.50,824.58 290.38,818.30 291.00,818.30 C291.62,818.30 292.32,824.58 292.70,829.30 C293.08,834.02 292.93,840.83 293.30,846.60 C293.67,852.37 294.35,858.42 294.90,863.90 C295.45,869.38 296.13,875.98 296.60,879.50 C297.07,883.02 297.13,883.62 297.70,885.00 C298.27,886.38 299.62,887.33 300.00,887.80" fill="none" stroke="#555" stroke-width="1.15" stroke-dasharray="1.8 1.8" clip-path="url(#c265_818)"/>
<path d="M282.00,887.80 C282.85,887.50 285.53,887.38 287.10,886.00 C288.67,884.62 290.32,883.18 291.40,879.50 C292.48,875.82 293.05,869.38 293.60,863.90 C294.15,858.42 294.33,850.07 294.70,846.60 C295.07,843.13 295.40,845.98 295.80,843.10 C296.20,840.22 296.75,832.32 297.10,829.30 C297.45,826.28 297.67,825.00 297.90,825.00 C298.13,825.00 297.98,825.70 298.50,829.30 C299.02,832.90 300.30,840.83 301.00,846.60 C301.70,852.37 302.07,858.42 302.70,863.90 C303.33,869.38 304.08,875.73 304.80,879.50 C305.52,883.27 305.80,885.12 307.00,886.50 C308.20,887.88 311.17,887.58 312.00,887.80" fill="none" stroke="#333" stroke-width="1.2" clip-path="url(#c265_818)"/>
<line x1="265.50" y1="818.30" x2="368.00" y2="818.30" stroke="#666" stroke-width="1.2" stroke-linecap="butt"/>
<line x1="368.00" y1="818.30" x2="368.00" y2="887.80" stroke="#777" stroke-width="1.2" stroke-linecap="butt"/>
<line x1="265.50" y1="818.30" x2="265.50" y2="887.80" stroke="#666" stroke-width="1.0" stroke-linecap="butt"/>
<line x1="265.50" y1="887.80" x2="368.00" y2="887.80" stroke="#222" stroke-width="1.5" stroke-linecap="butt"/>
<line x1="264.20" y1="818.30" x2="265.70" y2="818.30" stroke="#111" stroke-width="1.4" stroke-linecap="butt"/>
<line x1="264.20" y1="821.08" x2="265.70" y2="821.08" stroke="#111" stroke-width="1.4" stroke-linecap="butt"/>
<line x1="264.20" y1="823.86" x2="265.70" y2="823.86" stroke="#111" stroke-width="1.4" stroke-linecap="butt"/>
<line x1="264.20" y1="826.64" x2="265.70" y2="826.64" stroke="#111" stroke-width="1.4" stroke-linecap="butt"/>
<line x1="264.20" y1="829.42" x2="265.70" y2="829.42" stroke="#111" stroke-width="1.4" stroke-linecap="butt"/>
<line x1="264.20" y1="832.20" x2="265.70" y2="832.20" stroke="#111" stroke-width="1.4" stroke-linecap="butt"/>
<line x1="264.20" y1="834.98" x2="265.70" y2="834.98" stroke="#111" stroke-width="1.4" stroke-linecap="butt"/>
<line x1="264.20" y1="837.76" x2="265.70" y2="837.76" stroke="#111" stroke-width="1.4" stroke-linecap="butt"/>
<line x1="264.20" y1="840.54" x2="265.70" y2="840.54" stroke="#111" stroke-width="1.4" stroke-linecap="butt"/>
<line x1="264.20" y1="843.32" x2="265.70" y2="843.32" stroke="#111" stroke-width="1.4" stroke-linecap="butt"/>
<line x1="264.20" y1="846.10" x2="265.70" y2="846.10" stroke="#111" stroke-width="1.4" stroke-linecap="butt"/>
<line x1="264.20" y1="848.88" x2="265.70" y2="848.88" stroke="#111" stroke-width="1.4" stroke-linecap="butt"/>
<line x1="264.20" y1="851.66" x2="265.70" y2="851.66" stroke="#111" stroke-width="1.4" stroke-linecap="butt"/>
<line x1="264.20" y1="854.44" x2="265.70" y2="854.44" stroke="#111" stroke-width="1.4" stroke-linecap="butt"/>
<line x1="264.20" y1="857.22" x2="265.70" y2="857.22" stroke="#111" stroke-width="1.4" stroke-linecap="butt"/>
<line x1="264.20" y1="860.00" x2="265.70" y2="860.00" stroke="#111" stroke-width="1.4" stroke-linecap="butt"/>
<line x1="264.20" y1="862.78" x2="265.70" y2="862.78" stroke="#111" stroke-width="1.4" stroke-linecap="butt"/>
<line x1="264.20" y1="865.56" x2="265.70" y2="865.56" stroke="#111" stroke-width="1.4" stroke-linecap="butt"/>
<line x1="264.20" y1="868.34" x2="265.70" y2="868.34" stroke="#111" stroke-width="1.4" stroke-linecap="butt"/>
<line x1="264.20" y1="871.12" x2="265.70" y2="871.12" stroke="#111" stroke-width="1.4" stroke-linecap="butt"/>
<line x1="264.20" y1="873.90" x2="265.70" y2="873.90" stroke="#111" stroke-width="1.4" stroke-linecap="butt"/>
<line x1="264.20" y1="876.68" x2="265.70" y2="876.68" stroke="#111" stroke-width="1.4" stroke-linecap="butt"/>
<line x1="264.20" y1="879.46" x2="265.70" y2="879.46" stroke="#111" stroke-width="1.4" stroke-linecap="butt"/>
<line x1="264.20" y1="882.24" x2="265.70" y2="882.24" stroke="#111" stroke-width="1.4" stroke-linecap="butt"/>
<line x1="264.20" y1="885.02" x2="265.70" y2="885.02" stroke="#111" stroke-width="1.4" stroke-linecap="butt"/>
<line x1="264.20" y1="887.80" x2="265.70" y2="887.80" stroke="#111" stroke-width="1.4" stroke-linecap="butt"/>
<line x1="262.50" y1="818.30" x2="265.50" y2="818.30" stroke="#222" stroke-width="1.1" stroke-linecap="butt"/>
<line x1="262.50" y1="832.20" x2="265.50" y2="832.20" stroke="#222" stroke-width="1.1" stroke-linecap="butt"/>
<line x1="262.50" y1="846.10" x2="265.50" y2="846.10" stroke="#222" stroke-width="1.1" stroke-linecap="butt"/>
<line x1="262.50" y1="860.00" x2="265.50" y2="860.00" stroke="#222" stroke-width="1.1" stroke-linecap="butt"/>
<line x1="262.50" y1="873.90" x2="265.50" y2="873.90" stroke="#222" stroke-width="1.1" stroke-linecap="butt"/>
<line x1="262.50" y1="887.80" x2="265.50" y2="887.80" stroke="#222" stroke-width="1.1" stroke-linecap="butt"/>
<line x1="265.50" y1="887.80" x2="265.50" y2="890.00" stroke="#444" stroke-width="0.9" stroke-linecap="butt"/>
<line x1="273.21" y1="887.80" x2="273.21" y2="888.90" stroke="#444" stroke-width="0.9" stroke-linecap="butt"/>
<line x1="277.73" y1="887.80" x2="277.73" y2="888.90" stroke="#444" stroke-width="0.9" stroke-linecap="butt"/>
<line x1="280.93" y1="887.80" x2="280.93" y2="888.90" stroke="#444" stroke-width="0.9" stroke-linecap="butt"/>
<line x1="283.41" y1="887.80" x2="283.41" y2="888.90" stroke="#444" stroke-width="0.9" stroke-linecap="butt"/>
<line x1="285.44" y1="887.80" x2="285.44" y2="888.90" stroke="#444" stroke-width="0.9" stroke-linecap="butt"/>
<line x1="287.16" y1="887.80" x2="287.16" y2="888.90" stroke="#444" stroke-width="0.9" stroke-linecap="butt"/>
<line x1="288.64" y1="887.80" x2="288.64" y2="888.90" stroke="#444" stroke-width="0.9" stroke-linecap="butt"/>
<line x1="289.95" y1="887.80" x2="289.95" y2="888.90" stroke="#444" stroke-width="0.9" stroke-linecap="butt"/>
<line x1="291.12" y1="887.80" x2="291.12" y2="890.00" stroke="#444" stroke-width="0.9" stroke-linecap="butt"/>
<line x1="298.84" y1="887.80" x2="298.84" y2="888.90" stroke="#444" stroke-width="0.9" stroke-linecap="butt"/>
<line x1="303.35" y1="887.80" x2="303.35" y2="888.90" stroke="#444" stroke-width="0.9" stroke-linecap="butt"/>
<line x1="306.55" y1="887.80" x2="306.55" y2="888.90" stroke="#444" stroke-width="0.9" stroke-linecap="butt"/>
<line x1="309.04" y1="887.80" x2="309.04" y2="888.90" stroke="#444" stroke-width="0.9" stroke-linecap="butt"/>
<line x1="311.07" y1="887.80" x2="311.07" y2="888.90" stroke="#444" stroke-width="0.9" stroke-linecap="butt"/>
<line x1="312.78" y1="887.80" x2="312.78" y2="888.90" stroke="#444" stroke-width="0.9" stroke-linecap="butt"/>
<line x1="314.27" y1="887.80" x2="314.27" y2="888.90" stroke="#444" stroke-width="0.9" stroke-linecap="butt"/>
<line x1="315.58" y1="887.80" x2="315.58" y2="888.90" stroke="#444" stroke-width="0.9" stroke-linecap="butt"/>
<line x1="316.75" y1="887.80" x2="316.75" y2="890.00" stroke="#444" stroke-width="0.9" stroke-linecap="butt"/>
<line x1="324.46" y1="887.80" x2="324.46" y2="888.90" stroke="#444" stroke-width="0.9" stroke-linecap="butt"/>
<line x1="328.98" y1="887.80" x2="328.98" y2="888.90" stroke="#444" stroke-width="0.9" stroke-linecap="butt"/>
<line x1="332.18" y1="887.80" x2="332.18" y2="888.90" stroke="#444" stroke-width="0.9" stroke-linecap="butt"/>
<line x1="334.66" y1="887.80" x2="334.66" y2="888.90" stroke="#444" stroke-width="0.9" stroke-linecap="butt"/>
<line x1="336.69" y1="887.80" x2="336.69" y2="888.90" stroke="#444" stroke-width="0.9" stroke-linecap="butt"/>
<line x1="338.41" y1="887.80" x2="338.41" y2="888.90" stroke="#444" stroke-width="0.9" stroke-linecap="butt"/>
<line x1="339.89" y1="887.80" x2="339.89" y2="888.90" stroke="#444" stroke-width="0.9" stroke-linecap="butt"/>
<line x1="341.20" y1="887.80" x2="341.20" y2="888.90" stroke="#444" stroke-width="0.9" stroke-linecap="butt"/>
<line x1="342.38" y1="887.80" x2="342.38" y2="890.00" stroke="#444" stroke-width="0.9" stroke-linecap="butt"/>
<line x1="350.09" y1="887.80" x2="350.09" y2="888.90" stroke="#444" stroke-width="0.9" stroke-linecap="butt"/>
<line x1="354.60" y1="887.80" x2="354.60" y2="888.90" stroke="#444" stroke-width="0.9" stroke-linecap="butt"/>
<line x1="357.80" y1="887.80" x2="357.80" y2="888.90" stroke="#444" stroke-width="0.9" stroke-linecap="butt"/>
<line x1="360.29" y1="887.80" x2="360.29" y2="888.90" stroke="#444" stroke-width="0.9" stroke-linecap="butt"/>
<line x1="362.32" y1="887.80" x2="362.32" y2="888.90" stroke="#444" stroke-width="0.9" stroke-linecap="butt"/>
<line x1="364.03" y1="887.80" x2="364.03" y2="888.90" stroke="#444" stroke-width="0.9" stroke-linecap="butt"/>
<line x1="365.52" y1="887.80" x2="365.52" y2="888.90" stroke="#444" stroke-width="0.9" stroke-linecap="butt"/>
<line x1="366.83" y1="887.80" x2="366.83" y2="888.90" stroke="#444" stroke-width="0.9" stroke-linecap="butt"/>
<line x1="368.00" y1="887.80" x2="368.00" y2="890.00" stroke="#444" stroke-width="0.9" stroke-linecap="butt"/>
<text x="261.70" y="886.80" font-family="'Liberation Sans', sans-serif" font-size="5.1" text-anchor="middle" fill="#222" transform="rotate(-90 261.70 886.80)" stroke="#222" stroke-width="0.15">0</text>
<text x="261.70" y="872.90" font-family="'Liberation Sans', sans-serif" font-size="5.1" text-anchor="middle" fill="#222" transform="rotate(-90 261.70 872.90)" stroke="#222" stroke-width="0.15">60</text>
<text x="261.70" y="859.00" font-family="'Liberation Sans', sans-serif" font-size="5.1" text-anchor="middle" fill="#222" transform="rotate(-90 261.70 859.00)" stroke="#222" stroke-width="0.15">120</text>
<text x="261.70" y="845.10" font-family="'Liberation Sans', sans-serif" font-size="5.1" text-anchor="middle" fill="#222" transform="rotate(-90 261.70 845.10)" stroke="#222" stroke-width="0.15">180</text>
<text x="261.70" y="831.20" font-family="'Liberation Sans', sans-serif" font-size="5.1" text-anchor="middle" fill="#222" transform="rotate(-90 261.70 831.20)" stroke="#222" stroke-width="0.15">240</text>
<text x="261.70" y="817.30" font-family="'Liberation Sans', sans-serif" font-size="5.1" text-anchor="middle" fill="#222" transform="rotate(-90 261.70 817.30)" stroke="#222" stroke-width="0.15">300</text>
<text x="256.70" y="854.05" font-family="'Liberation Sans', sans-serif" font-size="5.1" text-anchor="middle" fill="#222" transform="rotate(-90 256.70 854.05)" stroke="#222" stroke-width="0.15">Counts</text>
<text x="267.50" y="895.50" font-family="'Liberation Sans', sans-serif" font-size="5.1" text-anchor="end" fill="#222">10</text>
<text x="267.70" y="893.10" font-family="'Liberation Sans', sans-serif" font-size="4.08" text-anchor="start" fill="#222">0</text>
<text x="293.12" y="895.50" font-family="'Liberation Sans', sans-serif" font-size="5.1" text-anchor="end" fill="#222">10</text>
<text x="293.32" y="893.10" font-family="'Liberation Sans', sans-serif" font-size="4.08" text-anchor="start" fill="#222">1</text>
<text x="318.75" y="895.50" font-family="'Liberation Sans', sans-serif" font-size="5.1" text-anchor="end" fill="#222">10</text>
<text x="318.95" y="893.10" font-family="'Liberation Sans', sans-serif" font-size="4.08" text-anchor="start" fill="#222">2</text>
<text x="344.38" y="895.50" font-family="'Liberation Sans', sans-serif" font-size="5.1" text-anchor="end" fill="#222">10</text>
<text x="344.57" y="893.10" font-family="'Liberation Sans', sans-serif" font-size="4.08" text-anchor="start" fill="#222">3</text>
<text x="370.00" y="895.50" font-family="'Liberation Sans', sans-serif" font-size="5.1" text-anchor="end" fill="#222">10</text>
<text x="370.20" y="893.10" font-family="'Liberation Sans', sans-serif" font-size="4.08" text-anchor="start" fill="#222">4</text>
<text x="316.75" y="902.00" font-family="'Liberation Sans', sans-serif" font-size="5.1" text-anchor="middle" fill="#222">FL1-Height</text>
<line x1="299.90" y1="869.80" x2="368.00" y2="869.80" stroke="#444" stroke-width="1.1" stroke-linecap="butt"/>
<line x1="299.90" y1="865.30" x2="299.90" y2="874.30" stroke="#333" stroke-width="1.2" stroke-linecap="butt"/>
<text x="335.65" y="875.20" font-family="'Liberation Sans', sans-serif" font-size="4.845" text-anchor="start" fill="#111" textLength="3.40" lengthAdjust="spacingAndGlyphs" stroke="#111" stroke-width="0.15">M</text>
<text x="342.53" y="875.20" font-family="'Liberation Sans', sans-serif" font-size="4.845" text-anchor="end" fill="#111" stroke="#111" stroke-width="0.15">1</text>
<text x="317.60" y="854.60" font-family="'Liberation Serif', serif" font-size="13.9" font-weight="bold" text-anchor="start" fill="#000" textLength="28.60" lengthAdjust="spacingAndGlyphs">32 %</text>
<line x1="72.50" y1="919.70" x2="380.00" y2="919.70" stroke="#000" stroke-width="5.2" stroke-linecap="butt"/>
<polygon points="378.6,913.8 390.4,919.7 378.6,925.4" fill="#000"/>
<text x="393.40" y="924.40" font-family="'Liberation Serif', serif" font-size="14" text-anchor="start" fill="#000" textLength="74.50" lengthAdjust="spacingAndGlyphs">p-HistoneH3</text>
<text x="393.40" y="941.20" font-family="'Liberation Serif', serif" font-size="14" text-anchor="start" fill="#000" textLength="48.00" lengthAdjust="spacingAndGlyphs">(Ser 10)</text>
<line x1="86.90" y1="942.80" x2="132.50" y2="942.80" stroke="#777" stroke-width="1.2" stroke-linecap="butt"/>
<text x="135.80" y="948.20" font-family="'Liberation Serif', serif" font-size="14" text-anchor="start" fill="#000" textLength="76.90" lengthAdjust="spacingAndGlyphs">p-HistoneH3</text>
<line x1="241.30" y1="941.50" x2="286.30" y2="941.50" stroke="#222" stroke-width="1.5" stroke-dasharray="2.6 1.5" stroke-linecap="butt"/>
<text x="309.20" y="947.40" font-family="'Liberation Serif', serif" font-size="14" text-anchor="start" fill="#000" textLength="27.40" lengthAdjust="spacingAndGlyphs">IgG1</text>
</svg></body></html>
